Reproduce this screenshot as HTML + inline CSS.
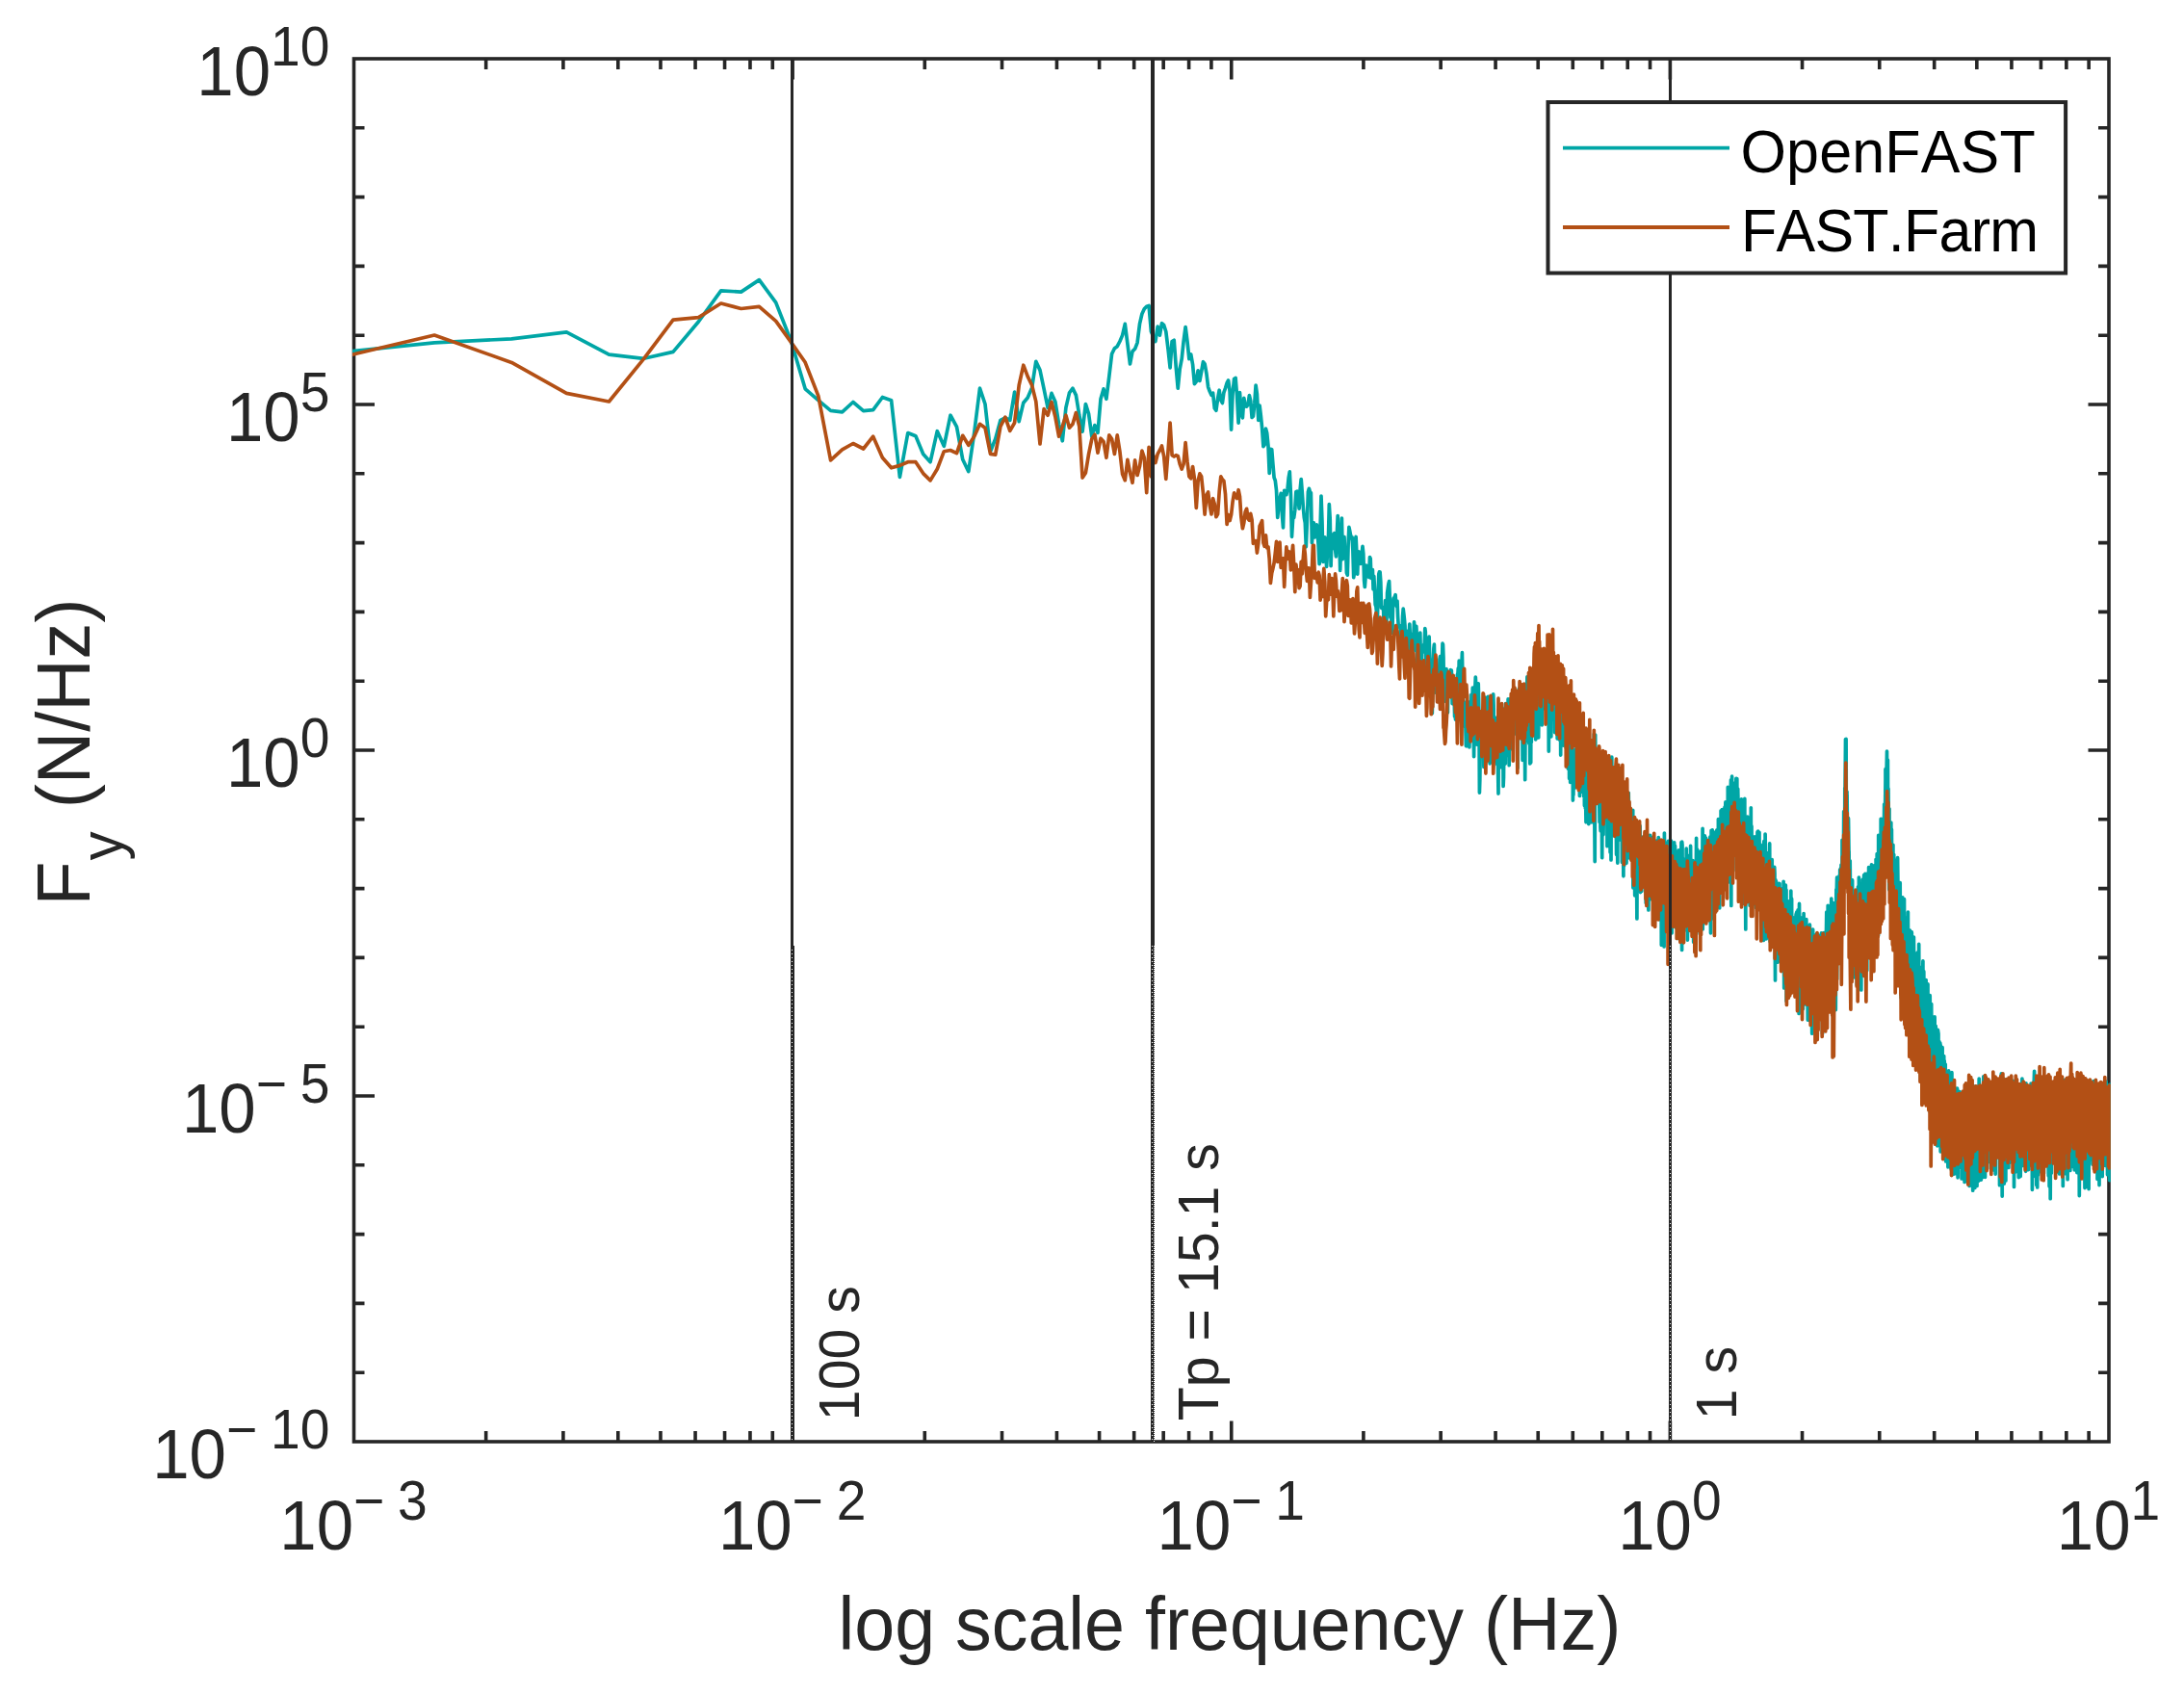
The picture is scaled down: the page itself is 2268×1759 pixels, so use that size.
<!DOCTYPE html>
<html><head><meta charset="utf-8"><title>Fy spectrum</title>
<style>html,body{margin:0;padding:0;background:#fff}body{width:2268px;height:1759px;overflow:hidden}</style></head>
<body>
<svg width="2268" height="1759" viewBox="0 0 2268 1759" style="display:block;font-family:'Liberation Sans',Arial,sans-serif">
<defs>
<clipPath id="ax"><rect x="366" y="59.3" width="1825.8" height="1439.5"/></clipPath>
</defs>
<rect width="2268" height="1759" fill="#fff"/>
<g stroke="#262626" stroke-width="3.6" fill="none" stroke-linecap="butt">
<rect x="367.5" y="61.0" width="1822.5" height="1436.0"/>
<path d="M504.66 1497.0v-11.0M504.66 61.0v11.0M584.89 1497.0v-11.0M584.89 61.0v11.0M641.81 1497.0v-11.0M641.81 61.0v11.0M685.97 1497.0v-11.0M685.97 61.0v11.0M722.05 1497.0v-11.0M722.05 61.0v11.0M752.55 1497.0v-11.0M752.55 61.0v11.0M778.97 1497.0v-11.0M778.97 61.0v11.0M802.28 1497.0v-11.0M802.28 61.0v11.0M823.12 1497.0v-21.5M823.12 61.0v21.5M960.28 1497.0v-11.0M960.28 61.0v11.0M1040.51 1497.0v-11.0M1040.51 61.0v11.0M1097.44 1497.0v-11.0M1097.44 61.0v11.0M1141.59 1497.0v-11.0M1141.59 61.0v11.0M1177.67 1497.0v-11.0M1177.67 61.0v11.0M1208.17 1497.0v-11.0M1208.17 61.0v11.0M1234.60 1497.0v-11.0M1234.60 61.0v11.0M1257.90 1497.0v-11.0M1257.90 61.0v11.0M1278.75 1497.0v-21.5M1278.75 61.0v21.5M1415.91 1497.0v-11.0M1415.91 61.0v11.0M1496.14 1497.0v-11.0M1496.14 61.0v11.0M1553.06 1497.0v-11.0M1553.06 61.0v11.0M1597.22 1497.0v-11.0M1597.22 61.0v11.0M1633.30 1497.0v-11.0M1633.30 61.0v11.0M1663.80 1497.0v-11.0M1663.80 61.0v11.0M1690.22 1497.0v-11.0M1690.22 61.0v11.0M1713.53 1497.0v-11.0M1713.53 61.0v11.0M1734.38 1497.0v-21.5M1734.38 61.0v21.5M1871.53 1497.0v-11.0M1871.53 61.0v11.0M1951.76 1497.0v-11.0M1951.76 61.0v11.0M2008.69 1497.0v-11.0M2008.69 61.0v11.0M2052.84 1497.0v-11.0M2052.84 61.0v11.0M2088.92 1497.0v-11.0M2088.92 61.0v11.0M2119.42 1497.0v-11.0M2119.42 61.0v11.0M2145.85 1497.0v-11.0M2145.85 61.0v11.0M2169.15 1497.0v-11.0M2169.15 61.0v11.0M367.5 1425.20h11.0M2190.0 1425.20h-11.0M367.5 1353.40h11.0M2190.0 1353.40h-11.0M367.5 1281.60h11.0M2190.0 1281.60h-11.0M367.5 1209.80h11.0M2190.0 1209.80h-11.0M367.5 1138.00h21.5M2190.0 1138.00h-21.5M367.5 1066.20h11.0M2190.0 1066.20h-11.0M367.5 994.40h11.0M2190.0 994.40h-11.0M367.5 922.60h11.0M2190.0 922.60h-11.0M367.5 850.80h11.0M2190.0 850.80h-11.0M367.5 779.00h21.5M2190.0 779.00h-21.5M367.5 707.20h11.0M2190.0 707.20h-11.0M367.5 635.40h11.0M2190.0 635.40h-11.0M367.5 563.60h11.0M2190.0 563.60h-11.0M367.5 491.80h11.0M2190.0 491.80h-11.0M367.5 420.00h21.5M2190.0 420.00h-21.5M367.5 348.20h11.0M2190.0 348.20h-11.0M367.5 276.40h11.0M2190.0 276.40h-11.0M367.5 204.60h11.0M2190.0 204.60h-11.0M367.5 132.80h11.0M2190.0 132.80h-11.0"/>
</g>
<g clip-path="url(#ax)" fill="none" stroke-width="3.7" stroke-linejoin="round" stroke-linecap="butt">
<path d="M314.0 370.0 L451.1 355.9 L531.3 351.8 L588.3 344.9 L632.4 368.1 L668.5 372.3 L699.0 365.4 L725.4 334.0 L748.7 301.8 L769.6 303.1 L788.4 290.6 L805.7 314.1 L821.5 354.3 L836.2 403.8 L849.8 415.7 L862.6 426.3 L874.6 427.9 L885.9 417.5 L896.6 426.6 L906.7 425.7 L916.4 412.5 L925.6 415.7 L934.4 495.3 L942.8 449.5 L950.9 452.8 L958.7 471.5 L966.1 479.7 L973.3 447.7 L980.3 463.3 L987.0 431.2 L993.5 443.1 L999.7 477.0 L1005.8 489.6 L1011.7 449.4 L1017.5 403.2 L1023.0 419.5 L1028.5 468.8 L1033.7 455.8 L1038.9 436.4 L1043.9 433.8 L1048.8 436.4 L1053.6 407.1 L1058.2 437.7 L1062.8 418.2 L1067.2 413.0 L1071.6 402.6 L1075.8 375.3 L1080.0 384.4 L1084.1 403.9 L1088.1 423.4 L1092.0 408.4 L1095.8 416.9 L1099.6 440.3 L1103.3 457.8 L1106.9 423.4 L1110.5 407.8 L1114.0 403.2 L1117.4 410.4 L1120.8 431.2 L1124.1 448.1 L1127.4 419.5 L1130.6 429.9 L1133.8 453.2 L1136.9 441.6 L1140.0 449.4 L1143.0 414.3 L1146.0 403.9 L1148.9 414.3 L1151.8 390.9 L1154.6 367.5 L1157.4 361.7 L1160.2 359.7 L1162.9 354.5 L1165.6 348.1 L1168.3 336.4 L1170.9 357.1 L1173.5 377.9 L1176.0 364.9 L1178.6 362.3 L1181.1 355.8 L1183.5 336.4 L1185.9 326.0 L1188.3 320.8 L1190.7 318.2 L1193.1 317.5 L1195.4 344.2 L1197.7 349.4 L1199.9 354.5 L1202.2 339.0 L1204.4 348.1 L1206.5 335.7 L1208.7 337.7 L1210.8 344.2 L1213.0 362.3 L1215.1 381.8 L1217.1 354.5 L1219.2 353.2 L1221.2 380.5 L1223.2 403.2 L1225.2 383.1 L1227.2 372.7 L1229.1 354.5 L1231.1 339.6 L1233.0 354.5 L1234.9 372.7 L1236.7 367.9 L1238.6 378.5 L1240.4 398.7 L1242.3 396.1 L1244.1 384.8 L1245.9 395.4 L1247.6 386.1 L1249.4 375.7 L1251.1 377.8 L1252.9 387.9 L1254.6 401.8 L1256.3 406.6 L1258.0 410.3 L1259.6 408.1 L1261.3 424.0 L1262.9 426.2 L1264.6 413.9 L1266.2 405.2 L1267.8 415.4 L1269.4 418.5 L1270.9 407.6 L1272.5 403.1 L1274.1 397.7 L1275.6 395.0 L1277.1 406.5 L1278.6 446.2 L1280.1 408.0 L1281.6 393.5 L1283.1 392.4 L1284.6 411.7 L1286.1 439.1 L1287.5 407.6 L1288.9 427.6 L1290.4 433.9 L1291.8 413.3 L1293.2 421.7 L1294.6 422.1 L1296.0 420.2 L1297.4 410.6 L1298.7 416.1 L1300.1 433.5 L1301.4 432.2 L1302.8 418.9 L1304.1 400.1 L1305.4 409.3 L1306.8 436.4 L1308.1 421.1 L1309.4 432.1 L1310.6 444.4 L1311.9 463.6 L1313.2 461.8 L1314.5 445.1 L1315.7 449.7 L1317.0 463.0 L1318.2 491.5 L1319.4 466.3 L1320.7 466.7 L1321.9 482.0 L1323.1 495.9 L1324.3 499.0 L1325.5 509.1 L1326.7 537.4 L1327.9 525.6 L1329.0 518.1 L1330.2 512.4 L1331.4 534.1 L1332.5 547.9 L1333.7 509.3 L1334.8 509.5 L1335.9 513.6 L1337.1 507.5 L1338.2 496.0 L1339.3 489.8 L1340.4 513.2 L1341.5 557.3 L1342.6 538.8 L1343.7 537.5 L1344.8 529.4 L1345.9 510.6 L1346.9 510.2 L1348.0 515.9 L1349.1 528.1 L1350.1 508.8 L1351.2 497.5 L1352.2 510.2 L1353.3 526.3 L1354.3 537.4 L1355.3 543.0 L1356.3 567.8 L1357.4 540.6 L1358.4 510.8 L1359.4 507.3 L1360.4 510.7 L1361.4 511.7 L1362.4 563.8 L1363.4 550.5 L1364.3 542.9 L1365.3 557.9 L1366.3 556.5 L1367.3 544.8 L1368.2 553.5 L1369.2 567.2 L1370.1 585.7 L1371.1 546.4 L1372.0 515.1 L1373.0 542.2 L1373.9 583.5 L1374.8 580.8 L1375.8 557.9 L1376.7 574.3 L1377.6 588.4 L1378.5 574.4 L1379.4 561.6 L1380.3 523.7 L1381.2 538.6 L1382.1 587.7 L1383.0 554.9 L1383.9 565.0 L1384.8 569.3 L1385.7 553.6 L1386.6 570.5 L1387.4 577.9 L1388.3 556.7 L1389.2 535.5 L1390.0 555.1 L1390.9 560.5 L1391.7 592.4 L1392.6 562.2 L1393.4 538.0 L1394.3 580.6 L1395.1 562.6 L1396.0 557.5 L1396.8 579.0 L1397.6 569.0 L1398.4 594.9 L1399.3 597.2 L1400.1 565.7 L1400.9 547.4 L1401.7 551.1 L1402.5 555.5 L1403.3 559.2 L1404.1 557.9 L1404.9 571.3 L1405.7 599.6 L1406.5 594.6 L1407.3 560.5 L1408.1 557.5 L1408.9 574.9 L1409.7 596.1 L1410.4 575.4 L1411.2 573.0 L1412.0 581.8 L1412.8 585.4 L1413.5 582.8 L1414.3 574.2 L1415.0 567.4 L1415.8 575.0 L1416.6 602.6 L1417.3 609.5 L1418.1 599.2 L1418.8 587.0 L1419.5 594.2 L1420.3 592.3 L1421.0 595.8 L1421.7 599.4 L1422.5 578.6 L1423.2 580.0 L1423.9 600.5 L1424.7 599.6 L1425.4 591.7 L1426.1 611.9 L1426.8 598.3 L1427.5 611.7 L1428.2 627.8 L1428.9 629.7 L1429.7 638.3 L1430.4 642.3 L1431.1 617.8 L1431.8 596.3 L1432.4 593.9 L1433.1 594.1 L1433.8 604.0 L1434.5 631.2 L1435.2 631.7 L1435.9 630.5 L1436.6 631.9 L1437.2 650.8 L1437.9 652.2 L1438.6 623.5 L1439.3 628.1 L1439.9 646.9 L1440.6 615.7 L1441.3 610.4 L1441.9 606.5 L1442.6 603.6 L1443.3 621.2 L1443.9 641.3 L1444.6 637.6 L1445.2 649.6 L1445.9 657.3 L1446.5 628.4 L1447.2 621.1 L1447.8 626.2 L1448.4 619.7 L1449.1 617.7 L1449.7 627.4 L1450.4 629.8 L1451.0 624.1 L1451.6 640.1 L1452.3 651.0 L1452.9 649.5 L1453.5 649.7 L1454.1 651.3 L1454.7 670.3 L1455.4 657.2 L1456.0 658.8 L1456.6 640.2 L1457.2 632.2 L1457.8 637.1 L1458.4 642.7 L1459.0 649.6 L1459.7 679.7 L1460.3 674.8 L1460.9 655.4 L1461.5 661.5 L1462.1 676.8 L1462.7 679.7 L1463.2 659.0 L1463.8 648.2 L1464.4 662.5 L1465.0 685.7 L1465.6 671.8 L1466.2 658.6 L1466.8 662.5 L1467.4 667.0 L1467.9 662.4 L1468.5 645.9 L1469.1 653.4 L1469.7 675.6 L1470.3 659.4 L1470.8 650.3 L1471.4 663.1 L1472.0 692.1 L1472.5 684.1 L1473.1 672.4 L1473.7 682.0 L1474.2 669.5 L1474.8 657.0 L1475.3 681.7 L1475.9 704.8 L1476.5 678.3 L1477.0 677.8 L1477.6 671.7 L1478.1 673.0 L1478.7 669.0 L1479.2 670.5 L1479.8 652.5 L1480.3 656.3 L1480.9 702.0 L1481.4 685.3 L1481.9 665.0 L1482.5 672.7 L1483.0 683.4 L1483.6 673.2 L1484.1 661.1 L1484.6 679.0 L1485.2 706.7 L1485.7 706.1 L1486.2 685.1 L1486.8 694.9 L1487.3 740.8 L1487.8 715.3 L1488.3 689.0 L1488.9 673.3 L1489.4 669.2 L1489.9 694.4 L1490.4 713.9 L1490.9 719.1 L1491.4 719.0 L1492.0 707.0 L1492.5 717.6 L1493.0 712.5 L1493.5 708.6 L1494.0 706.8 L1494.5 710.2 L1495.0 684.5 L1495.5 681.5 L1496.0 686.2 L1496.5 681.7 L1497.0 705.1 L1497.5 686.4 L1498.0 668.2 L1498.5 669.3 L1499.0 683.3 L1499.5 728.6 L1500.0 724.4 L1500.5 696.4 L1501.0 704.1 L1501.5 706.9 L1502.0 694.7 L1502.5 699.2 L1503.0 734.8 L1503.4 740.0 L1503.9 705.7 L1504.4 711.8 L1504.9 709.7 L1505.4 704.5 L1505.9 703.5 L1506.3 695.5 L1506.8 702.9 L1507.3 696.1 L1507.8 712.3 L1508.2 730.6 L1508.7 725.2 L1509.2 727.9 L1509.6 724.5 L1510.1 722.3 L1510.6 744.1 L1511.1 740.2 L1511.5 747.1 L1512.0 721.6 L1512.4 720.6 L1512.9 720.1 L1513.4 700.4 L1513.8 701.2 L1514.3 693.9 L1514.8 710.3 L1515.2 686.2 L1515.7 692.4 L1516.1 722.2 L1516.6 737.4 L1517.0 738.0 L1517.5 701.7 L1517.9 691.7 L1518.4 677.7 L1518.8 699.5 L1519.3 707.6 L1519.7 736.1 L1520.2 754.0 L1520.6 732.4 L1521.1 729.0 L1521.5 755.5 L1521.9 753.5 L1522.4 774.4 L1522.8 774.7 L1523.3 734.4 L1523.7 731.1 L1524.1 736.2 L1524.6 741.2 L1525.0 751.8 L1525.5 729.2 L1525.9 776.0 L1526.3 756.2 L1526.7 750.9 L1527.2 749.8 L1527.6 740.1 L1528.0 721.1 L1528.5 720.9 L1528.9 730.4 L1529.3 714.2 L1529.7 719.7 L1530.2 755.9 L1530.6 785.7 L1531.0 752.5 L1531.4 738.5 L1531.9 712.7 L1532.3 703.1 L1532.7 710.3 L1533.1 718.6 L1533.5 752.6 L1533.9 773.1 L1534.4 771.9 L1534.8 713.4 L1535.2 709.9 L1535.6 724.9 L1536.0 750.7 L1536.4 823.1 L1536.8 809.9 L1537.2 780.4 L1537.7 762.4 L1538.1 758.3 L1538.5 758.5 L1538.9 779.3 L1539.3 759.4 L1539.7 746.7 L1540.1 746.8 L1540.5 739.7 L1540.9 796.4 L1541.3 765.5 L1541.7 739.8 L1542.1 724.1 L1542.5 743.7 L1542.9 750.5 L1543.3 727.6 L1543.7 734.6 L1544.1 755.8 L1544.5 738.0 L1544.9 753.9 L1545.3 723.4 L1545.6 732.3 L1546.0 751.5 L1546.4 733.3 L1546.8 787.5 L1547.2 792.8 L1547.6 774.3 L1548.0 773.7 L1548.4 784.4 L1548.8 746.8 L1549.1 763.4 L1549.5 763.5 L1549.9 760.2 L1550.3 741.2 L1550.7 720.8 L1551.1 732.1 L1551.4 771.0 L1551.8 744.9 L1552.2 773.3 L1552.6 745.0 L1553.0 777.2 L1553.3 751.2 L1553.7 748.6 L1554.1 787.4 L1554.5 779.2 L1554.8 793.9 L1555.2 759.1 L1555.6 799.2 L1556.0 824.1 L1556.3 763.7 L1556.7 781.0 L1557.1 783.2 L1557.4 758.7 L1557.8 760.7 L1558.2 744.5 L1558.5 796.7 L1558.9 745.2 L1559.3 733.1 L1559.6 769.0 L1560.0 748.8 L1560.4 746.4 L1560.7 754.7 L1561.1 816.5 L1561.5 807.2 L1561.8 774.1 L1562.2 757.4 L1562.5 735.7 L1562.9 749.6 L1563.3 793.1 L1563.6 730.6 L1564.0 752.6 L1564.3 777.0 L1564.7 755.3 L1565.0 746.8 L1565.4 767.9 L1565.7 784.4 L1566.1 725.9 L1566.5 729.9 L1566.8 737.4 L1567.2 794.7 L1567.5 763.1 L1567.9 767.6 L1568.2 778.6 L1568.6 725.6 L1568.9 761.8 L1569.3 760.1 L1569.6 724.9 L1570.0 771.5 L1570.3 732.3 L1570.6 752.2 L1571.0 723.5 L1571.3 756.8 L1571.7 751.5 L1572.0 735.6 L1572.4 737.7 L1572.7 752.8 L1573.0 746.5 L1573.4 726.3 L1573.7 762.0 L1574.1 753.2 L1574.4 740.1 L1574.7 759.8 L1575.1 745.0 L1575.4 748.1 L1575.8 755.6 L1576.1 797.4 L1576.4 756.6 L1576.8 754.6 L1577.1 752.3 L1577.4 715.0 L1577.8 747.0 L1578.1 726.2 L1578.4 737.0 L1578.8 733.3 L1579.1 737.0 L1579.4 754.8 L1579.8 721.5 L1580.1 719.2 L1580.4 744.5 L1580.7 714.9 L1581.1 789.3 L1581.4 749.9 L1581.7 713.0 L1582.0 776.1 L1582.4 767.6 L1582.7 755.2 L1583.0 730.7 L1583.3 752.4 L1583.7 809.7 L1584.0 756.0 L1584.3 770.0 L1584.6 750.7 L1585.0 764.4 L1585.3 758.0 L1585.6 721.6 L1585.9 702.9 L1586.2 746.7 L1586.6 744.8 L1586.9 756.7 L1587.2 727.4 L1587.5 716.6 L1587.8 772.0 L1588.1 738.5 L1588.5 752.0 L1588.8 792.9 L1589.1 749.0 L1589.4 727.0 L1589.7 791.8 L1590.0 710.0 L1590.3 770.7 L1590.7 718.3 L1591.0 737.7 L1591.3 730.5 L1591.6 743.1 L1591.9 729.4 L1592.2 711.0 L1592.5 738.2 L1592.8 728.0 L1593.1 753.5 L1593.5 736.7 L1593.8 704.6 L1594.1 721.2 L1594.4 749.3 L1594.7 768.0 L1595.0 724.9 L1595.3 722.1 L1595.6 725.4 L1595.9 721.8 L1596.2 743.5 L1596.5 753.4 L1596.8 745.8 L1597.1 717.3 L1597.4 725.9 L1597.7 765.9 L1598.0 727.4 L1598.3 703.5 L1598.6 710.0 L1598.9 704.7 L1599.2 719.7 L1599.5 732.6 L1599.8 719.8 L1600.1 718.6 L1600.4 713.3 L1600.7 729.7 L1601.0 722.0 L1601.3 752.9 L1601.6 717.5 L1601.9 717.8 L1602.2 701.9 L1602.5 697.3 L1602.8 736.0 L1603.1 735.7 L1603.4 706.5 L1603.6 733.1 L1603.9 720.0 L1604.2 732.5 L1604.5 707.1 L1604.8 725.1 L1605.1 718.1 L1605.4 722.8 L1605.7 719.9 L1606.0 721.1 L1606.3 735.4 L1606.5 719.7 L1606.8 736.7 L1607.1 709.9 L1607.4 732.1 L1607.7 708.8 L1608.0 706.0 L1608.3 780.1 L1608.6 734.2 L1608.8 700.8 L1609.1 724.8 L1609.4 737.0 L1609.7 728.7 L1610.0 740.3 L1610.3 717.7 L1610.5 699.0 L1610.8 765.0 L1611.1 718.4 L1611.4 704.6 L1611.7 722.2 L1611.9 724.2 L1612.2 729.7 L1612.5 731.3 L1612.8 725.0 L1613.1 706.1 L1613.3 712.5 L1613.6 720.8 L1613.9 734.6 L1614.2 730.6 L1614.5 722.8 L1614.7 760.6 L1615.0 736.8 L1615.3 714.2 L1615.6 697.0 L1615.8 706.9 L1616.1 733.3 L1616.4 734.3 L1616.7 735.5 L1616.9 736.7 L1617.2 767.1 L1617.5 722.9 L1617.7 748.2 L1618.0 708.5 L1618.3 724.0 L1618.6 750.8 L1618.8 735.9 L1619.1 713.3 L1619.4 745.7 L1619.6 753.6 L1619.9 768.6 L1620.2 739.0 L1620.4 731.0 L1620.7 784.1 L1621.0 737.7 L1621.3 748.3 L1621.5 741.6 L1621.8 749.3 L1622.1 737.0 L1622.3 765.9 L1622.6 759.5 L1622.9 743.3 L1623.1 756.7 L1623.4 746.0 L1623.6 774.1 L1623.9 742.1 L1624.2 767.0 L1624.4 766.5 L1624.7 749.6 L1625.0 770.8 L1625.2 757.0 L1625.5 761.0 L1625.7 772.2 L1626.0 742.9 L1626.3 776.7 L1626.5 775.6 L1626.8 759.1 L1627.1 787.0 L1627.3 781.2 L1627.6 782.1 L1627.8 788.4 L1628.1 783.4 L1628.3 798.3 L1628.6 763.0 L1628.9 791.3 L1629.1 749.0 L1629.4 726.1 L1629.6 808.3 L1629.9 796.9 L1630.1 792.5 L1630.4 799.7 L1630.7 812.4 L1630.9 759.1 L1631.2 797.4 L1631.4 793.5 L1631.7 783.4 L1631.9 758.4 L1632.2 802.4 L1632.4 748.6 L1632.7 767.0 L1632.9 805.3 L1633.2 784.1 L1633.4 831.1 L1633.7 796.5 L1633.9 825.4 L1634.2 796.5 L1634.4 793.5 L1634.7 818.3 L1634.9 804.1 L1635.2 778.9 L1635.4 816.5 L1635.7 818.0 L1635.9 808.9 L1636.2 817.7 L1636.4 815.6 L1636.7 803.1 L1636.9 817.3 L1637.2 758.3 L1637.4 797.5 L1637.7 809.8 L1637.9 786.7 L1638.2 799.4 L1638.4 815.3 L1638.6 782.7 L1638.9 791.8 L1639.1 773.2 L1639.4 782.3 L1639.6 816.1 L1639.9 779.8 L1640.1 795.6 L1640.4 826.5 L1640.6 764.3 L1640.8 808.6 L1641.1 816.9 L1641.3 822.8 L1641.6 788.8 L1641.8 783.3 L1642.0 781.2 L1642.3 814.0 L1642.5 794.8 L1642.8 802.0 L1643.0 803.9 L1643.2 816.8 L1644.0 788.3 L1644.2 812.3 L1644.4 795.6 L1644.7 827.2 L1644.9 822.5 L1645.2 815.3 L1645.4 836.4 L1645.6 829.3 L1645.9 811.6 L1646.1 817.3 L1646.3 839.2 L1646.6 819.5 L1646.8 840.8 L1647.0 853.8 L1648.0 810.6 L1648.2 798.1 L1648.4 822.6 L1648.7 796.4 L1648.9 803.0 L1649.1 789.8 L1649.4 824.4 L1649.6 782.3 L1649.8 855.6 L1650.1 781.6 L1651.0 845.0 L1651.2 809.7 L1651.5 807.6 L1651.7 805.1 L1651.9 784.2 L1652.1 821.1 L1652.4 802.0 L1652.6 777.0 L1652.8 853.8 L1653.1 807.2 L1653.7 828.2 L1654.0 779.0 L1654.2 818.9 L1654.4 839.5 L1654.6 811.9 L1654.9 819.4 L1655.1 801.7 L1655.3 762.3 L1656.0 869.1 L1656.2 894.6 L1656.4 812.6 L1656.7 763.0 L1656.9 806.1 L1657.1 803.4 L1657.8 779.9 L1658.0 785.4 L1658.2 789.2 L1658.4 800.1 L1658.7 791.5 L1658.9 786.2 L1659.1 788.6 L1659.8 780.5 L1660.0 831.8 L1660.2 790.7 L1660.4 834.8 L1660.6 821.2 L1660.9 839.9 L1661.1 853.7 L1661.3 783.4 L1662.0 859.7 L1662.2 862.8 L1662.4 845.8 L1662.6 808.3 L1662.8 831.5 L1663.0 809.2 L1663.7 890.7 L1663.9 835.4 L1664.1 839.7 L1664.8 783.9 L1665.0 866.8 L1665.2 852.1 L1665.4 802.3 L1665.6 820.5 L1665.8 807.4 L1666.0 813.5 L1666.5 837.3 L1666.7 812.7 L1666.9 837.0 L1667.1 790.1 L1667.5 833.8 L1668.0 815.1 L1668.2 825.1 L1668.4 847.2 L1668.6 822.9 L1668.8 813.9 L1669.0 878.7 L1669.6 807.7 L1669.8 833.9 L1670.1 831.4 L1670.5 877.3 L1670.7 817.1 L1670.9 844.7 L1671.1 875.5 L1671.3 814.2 L1671.9 846.5 L1672.1 884.9 L1672.8 832.8 L1673.0 892.9 L1673.2 835.5 L1673.6 861.4 L1673.8 786.2 L1674.0 823.4 L1674.2 851.9 L1674.4 820.3 L1674.6 853.7 L1674.8 820.7 L1675.0 824.3 L1675.8 850.9 L1676.0 814.8 L1676.6 868.2 L1676.8 807.8 L1677.0 848.4 L1677.6 830.8 L1677.8 854.1 L1678.0 813.5 L1678.6 887.3 L1678.8 852.4 L1679.0 877.0 L1679.4 840.6 L1679.8 896.1 L1680.0 823.2 L1680.2 855.5 L1680.4 819.2 L1680.8 853.6 L1681.0 842.3 L1681.2 859.5 L1681.8 824.1 L1682.0 801.1 L1683.0 872.3 L1683.2 856.5 L1683.4 822.1 L1684.0 842.4 L1684.2 844.7 L1684.4 895.3 L1684.8 822.4 L1684.9 825.6 L1685.1 879.7 L1685.3 849.1 L1685.9 909.8 L1686.1 850.5 L1686.5 899.3 L1686.9 816.9 L1687.1 844.1 L1687.5 829.5 L1687.8 896.8 L1688.0 864.7 L1688.2 837.6 L1689.0 896.3 L1689.2 841.4 L1689.7 890.0 L1689.9 842.7 L1690.1 866.4 L1690.3 837.8 L1690.7 868.6 L1690.9 862.4 L1691.1 881.4 L1691.2 823.3 L1692.0 890.9 L1692.2 853.8 L1692.6 839.0 L1692.7 887.3 L1692.9 853.2 L1693.1 877.4 L1693.5 884.8 L1693.7 846.2 L1693.9 857.0 L1694.0 878.8 L1694.2 842.2 L1694.6 893.3 L1695.0 879.3 L1695.1 888.1 L1695.7 841.3 L1695.9 921.8 L1696.1 866.5 L1696.2 864.4 L1696.6 911.2 L1697.0 900.2 L1697.2 905.9 L1697.3 865.8 L1697.7 929.8 L1697.9 887.0 L1698.1 879.7 L1698.4 904.6 L1698.8 863.6 L1699.0 896.9 L1699.2 902.6 L1699.3 874.2 L1699.9 954.0 L1700.1 891.9 L1700.2 921.6 L1700.9 909.0 L1701.1 906.8 L1701.3 870.9 L1701.5 908.1 L1701.8 906.7 L1702.0 875.4 L1702.2 912.7 L1702.9 877.3 L1703.1 857.7 L1703.6 926.6 L1704.0 879.6 L1704.1 918.3 L1704.5 898.1 L1704.8 925.4 L1705.0 901.4 L1705.2 916.3 L1705.5 869.3 L1705.9 910.1 L1706.1 883.7 L1706.4 910.7 L1706.9 905.7 L1707.1 883.1 L1707.5 876.8 L1707.6 890.7 L1708.0 887.0 L1708.1 892.5 L1708.3 881.2 L1708.8 917.9 L1709.0 886.1 L1709.2 937.5 L1709.3 867.6 L1709.9 887.9 L1710.0 927.6 L1710.7 866.4 L1710.9 882.1 L1711.1 913.1 L1711.7 872.4 L1711.9 945.0 L1712.1 887.3 L1712.7 867.9 L1712.9 913.4 L1713.1 916.5 L1713.3 933.2 L1713.6 867.3 L1713.9 885.9 L1714.1 903.8 L1714.3 880.9 L1714.6 933.7 L1714.9 905.8 L1715.1 894.1 L1715.3 925.6 L1715.8 880.5 L1715.9 904.3 L1716.1 872.2 L1716.6 869.4 L1716.7 901.8 L1716.9 890.3 L1717.1 908.8 L1717.2 951.8 L1717.6 878.4 L1717.9 892.2 L1718.1 909.2 L1718.2 902.5 L1718.7 955.3 L1718.9 906.3 L1719.0 884.4 L1719.9 910.4 L1720.0 908.8 L1720.5 872.8 L1721.0 917.3 L1721.2 932.1 L1722.0 878.7 L1722.1 892.7 L1722.3 869.5 L1722.8 908.4 L1722.9 896.1 L1723.1 913.8 L1723.2 940.2 L1723.6 893.7 L1723.9 902.1 L1724.0 929.5 L1724.2 955.0 L1724.8 891.3 L1725.0 917.8 L1725.1 903.7 L1725.3 981.3 L1725.6 879.8 L1725.9 891.0 L1726.1 899.5 L1726.3 933.7 L1726.6 892.7 L1726.9 902.5 L1727.0 918.2 L1727.3 937.8 L1727.7 886.8 L1728.0 905.8 L1728.1 982.9 L1728.4 865.1 L1728.9 916.1 L1729.1 926.7 L1729.7 893.3 L1730.0 941.5 L1730.1 903.9 L1730.3 926.9 L1730.6 875.6 L1730.9 878.7 L1731.1 907.7 L1731.2 892.1 L1731.4 915.8 L1732.0 896.0 L1732.1 875.5 L1732.4 873.3 L1732.7 943.9 L1732.9 937.2 L1733.1 908.3 L1733.5 882.1 L1733.8 944.9 L1734.0 902.0 L1734.1 922.1 L1734.4 886.4 L1734.9 917.0 L1735.0 923.4 L1735.5 873.2 L1735.8 936.1 L1735.9 926.5 L1736.1 969.0 L1736.8 891.0 L1737.0 907.9 L1737.1 930.7 L1737.3 885.4 L1737.9 911.1 L1738.0 914.9 L1738.7 874.9 L1738.9 935.3 L1739.0 925.5 L1739.5 878.3 L1739.9 924.2 L1740.1 963.0 L1740.9 895.3 L1741.1 916.1 L1741.5 927.8 L1741.7 884.1 L1742.0 904.3 L1742.1 974.4 L1742.5 893.1 L1743.0 926.9 L1743.1 922.7 L1743.3 882.8 L1743.4 933.1 L1744.0 912.8 L1744.1 911.6 L1744.3 893.5 L1744.7 918.9 L1745.0 916.7 L1745.1 927.4 L1746.0 874.6 L1746.1 913.5 L1746.6 986.5 L1746.7 874.1 L1747.0 877.3 L1747.1 896.0 L1747.4 918.5 L1747.6 891.3 L1748.0 915.5 L1748.1 892.9 L1748.8 933.3 L1749.0 928.3 L1749.1 901.1 L1749.4 952.4 L1749.9 898.3 L1750.1 922.6 L1750.2 907.9 L1750.5 946.3 L1750.9 935.8 L1751.1 906.0 L1751.2 881.2 L1751.3 917.5 L1751.9 889.5 L1752.0 966.9 L1752.3 888.7 L1752.4 976.1 L1753.0 935.9 L1753.1 920.2 L1753.5 952.0 L1753.9 896.8 L1754.1 922.0 L1754.4 888.2 L1754.6 930.4 L1754.9 919.1 L1755.0 922.7 L1755.2 935.5 L1755.6 878.4 L1756.0 931.1 L1756.1 901.1 L1756.5 943.9 L1756.9 906.4 L1757.1 957.2 L1757.9 893.7 L1758.0 928.5 L1758.3 899.0 L1758.7 978.2 L1758.9 919.0 L1759.1 914.8 L1759.3 902.2 L1759.6 942.8 L1759.9 922.5 L1760.0 896.0 L1760.1 895.6 L1760.3 974.4 L1760.9 907.4 L1761.1 935.7 L1761.6 870.3 L1761.7 969.7 L1762.0 883.0 L1762.1 927.6 L1762.2 937.4 L1762.6 882.1 L1762.9 915.3 L1763.0 944.2 L1763.3 887.6 L1763.9 931.0 L1764.1 906.1 L1764.2 953.5 L1764.7 893.8 L1765.0 915.6 L1765.1 889.6 L1765.6 942.4 L1765.9 909.2 L1766.0 884.2 L1766.5 962.7 L1766.9 903.7 L1767.0 888.8 L1767.3 962.6 L1767.6 888.1 L1767.9 890.1 L1768.1 860.4 L1768.2 964.9 L1769.0 911.6 L1769.1 873.7 L1769.3 923.3 L1770.0 904.8 L1770.1 899.6 L1770.2 941.8 L1770.3 867.8 L1771.0 905.8 L1771.1 941.8 L1771.5 870.0 L1772.0 877.5 L1772.1 909.3 L1772.6 946.2 L1772.8 886.9 L1773.0 911.1 L1773.1 907.1 L1773.3 922.8 L1773.5 887.1 L1774.0 898.6 L1774.1 899.8 L1774.2 926.3 L1774.5 875.8 L1774.9 892.9 L1775.1 892.1 L1775.6 921.8 L1775.8 869.2 L1775.9 874.9 L1776.1 932.0 L1776.5 968.9 L1776.9 878.0 L1777.0 902.4 L1777.1 862.4 L1778.0 953.9 L1778.1 862.8 L1778.2 861.9 L1778.4 926.7 L1779.0 880.5 L1779.1 885.3 L1779.8 914.7 L1779.9 864.1 L1780.0 899.4 L1780.4 865.4 L1780.8 933.1 L1780.9 910.9 L1781.0 904.8 L1781.4 892.6 L1781.7 938.4 L1782.0 895.8 L1782.1 895.1 L1782.4 918.4 L1782.8 862.1 L1782.9 867.0 L1783.0 861.9 L1783.4 937.4 L1784.0 888.2 L1784.1 910.9 L1784.3 937.9 L1784.4 850.5 L1784.9 879.5 L1785.0 894.1 L1785.7 943.0 L1785.8 864.3 L1785.9 895.7 L1786.1 897.4 L1786.4 921.2 L1786.9 850.0 L1787.0 883.6 L1787.1 841.8 L1787.6 915.9 L1787.9 871.3 L1788.0 889.6 L1788.3 840.7 L1788.8 900.0 L1789.0 848.1 L1789.1 913.9 L1789.3 845.7 L1790.0 878.2 L1790.1 847.5 L1790.5 896.8 L1790.9 860.8 L1791.0 838.2 L1791.1 908.4 L1791.9 832.9 L1792.0 879.1 L1792.5 881.2 L1792.7 838.7 L1792.9 849.4 L1793.0 916.3 L1793.4 837.5 L1793.9 896.0 L1794.0 841.5 L1794.2 908.6 L1794.3 817.4 L1794.9 842.1 L1795.0 857.9 L1795.7 882.3 L1795.9 825.8 L1796.0 916.0 L1796.4 819.8 L1796.9 908.5 L1797.0 827.4 L1797.5 809.8 L1797.8 940.4 L1797.9 863.3 L1798.0 846.2 L1798.6 806.2 L1798.7 860.3 L1798.9 818.8 L1799.0 841.9 L1799.5 812.9 L1799.9 875.5 L1800.0 872.1 L1800.1 857.6 L1800.2 866.4 L1800.6 819.0 L1801.0 866.4 L1801.1 832.9 L1801.3 824.1 L1801.5 874.9 L1801.9 846.1 L1802.0 813.8 L1802.2 874.5 L1802.9 808.4 L1803.0 860.9 L1803.1 885.7 L1803.2 904.0 L1803.8 808.6 L1804.0 874.9 L1804.1 902.8 L1804.7 819.1 L1804.9 829.4 L1805.0 873.8 L1805.1 832.9 L1805.7 902.7 L1806.0 855.1 L1806.1 859.7 L1806.6 850.9 L1806.9 910.9 L1807.0 908.1 L1807.5 846.7 L1807.9 854.6 L1808.0 864.7 L1808.2 871.3 L1808.4 829.8 L1809.0 865.3 L1809.1 860.3 L1809.5 857.8 L1809.6 938.2 L1809.9 893.6 L1810.0 869.8 L1810.1 836.9 L1810.9 906.9 L1811.0 870.0 L1811.7 921.3 L1811.8 829.3 L1812.0 895.8 L1812.1 906.5 L1812.3 869.5 L1812.8 964.9 L1813.0 873.3 L1813.1 881.7 L1813.2 851.7 L1813.7 922.4 L1814.0 868.5 L1814.1 863.8 L1814.3 931.1 L1814.7 848.0 L1814.9 920.2 L1815.0 913.7 L1815.2 931.5 L1815.6 851.4 L1815.9 911.1 L1816.0 898.6 L1816.3 862.6 L1816.5 936.3 L1817.0 917.4 L1817.1 940.2 L1817.6 868.9 L1818.0 900.1 L1818.1 890.9 L1818.3 838.8 L1818.5 905.1 L1819.0 857.9 L1819.1 885.8 L1819.4 872.2 L1819.9 922.0 L1820.0 896.3 L1820.1 906.3 L1820.4 884.5 L1820.5 935.8 L1820.9 887.2 L1821.0 912.2 L1821.2 877.5 L1821.4 938.8 L1821.9 889.2 L1822.0 911.5 L1822.1 868.9 L1822.9 927.9 L1823.0 890.7 L1823.1 886.0 L1823.4 942.3 L1823.7 875.6 L1823.9 879.5 L1824.0 874.1 L1824.7 946.1 L1825.0 863.9 L1825.1 883.8 L1825.5 922.9 L1825.7 863.1 L1825.9 873.6 L1826.0 895.3 L1826.6 918.7 L1827.0 864.3 L1827.1 893.1 L1827.2 940.6 L1827.9 893.8 L1828.0 907.9 L1828.2 877.0 L1829.0 924.5 L1829.1 894.2 L1829.4 951.0 L1829.7 885.6 L1830.0 937.1 L1830.1 924.6 L1830.5 885.8 L1830.8 948.5 L1830.9 910.5 L1831.0 918.0 L1831.3 976.5 L1831.8 873.7 L1831.9 907.4 L1832.0 930.2 L1832.6 958.2 L1832.9 884.9 L1832.9 947.1 L1833.0 903.5 L1833.1 866.0 L1834.0 932.2 L1834.0 893.0 L1834.3 974.9 L1835.0 922.0 L1835.0 951.7 L1835.3 885.9 L1835.9 919.5 L1836.0 912.9 L1836.1 892.2 L1836.6 939.4 L1836.9 904.3 L1837.0 965.0 L1837.7 875.9 L1837.9 919.8 L1838.0 928.6 L1838.1 977.6 L1838.7 902.0 L1839.0 926.9 L1839.1 926.3 L1839.2 955.5 L1840.0 903.1 L1840.1 928.7 L1840.2 892.7 L1840.4 962.4 L1840.9 925.8 L1841.0 949.2 L1841.1 901.3 L1841.6 952.6 L1841.9 920.4 L1842.0 956.6 L1842.7 900.4 L1843.0 907.2 L1843.0 924.5 L1843.5 1017.9 L1843.7 913.3 L1843.9 928.3 L1844.0 918.6 L1844.3 981.0 L1844.4 914.9 L1845.0 935.1 L1845.0 950.7 L1845.2 918.4 L1845.6 977.1 L1846.0 933.4 L1846.1 967.7 L1846.2 999.2 L1846.8 927.2 L1846.9 932.6 L1847.0 962.9 L1847.1 989.5 L1847.4 917.4 L1848.0 917.5 L1848.0 945.9 L1848.4 922.4 L1848.6 983.4 L1849.0 930.1 L1849.1 971.2 L1849.4 922.8 L1849.7 993.9 L1850.0 934.0 L1850.1 978.1 L1850.3 1007.9 L1850.6 929.8 L1851.0 940.2 L1851.1 960.3 L1851.4 932.3 L1851.9 1000.4 L1852.0 996.8 L1852.1 915.3 L1852.7 1026.0 L1853.0 971.8 L1853.1 947.1 L1853.4 1017.0 L1853.9 943.4 L1854.0 983.3 L1854.1 960.1 L1854.3 919.1 L1854.6 976.9 L1855.0 924.0 L1855.1 1039.6 L1855.1 945.1 L1856.0 946.8 L1856.0 950.2 L1856.4 935.5 L1856.7 985.2 L1856.9 983.2 L1857.0 950.3 L1857.3 999.4 L1857.7 938.2 L1858.0 954.6 L1858.1 984.2 L1858.6 945.8 L1858.8 1000.6 L1859.0 978.8 L1859.0 974.1 L1859.3 1028.7 L1859.8 925.0 L1860.0 968.3 L1860.1 970.2 L1860.6 933.2 L1860.8 989.3 L1861.0 968.4 L1861.0 985.0 L1861.7 957.0 L1861.8 1013.5 L1862.0 961.4 L1862.1 975.7 L1862.8 997.7 L1862.9 963.9 L1863.0 1004.9 L1863.3 952.9 L1863.7 1007.4 L1864.0 994.9 L1864.0 1002.0 L1864.1 1021.7 L1865.0 951.2 L1865.1 949.5 L1865.8 947.2 L1865.9 1016.5 L1866.0 965.5 L1866.1 953.1 L1866.2 1014.2 L1867.0 974.4 L1867.1 964.4 L1867.1 944.8 L1868.0 1024.2 L1868.1 971.3 L1868.1 1052.4 L1868.5 938.4 L1869.0 998.3 L1869.1 1005.5 L1869.4 1007.4 L1869.6 957.4 L1870.0 975.4 L1870.1 1002.9 L1870.1 955.7 L1870.7 1032.0 L1871.0 996.6 L1871.0 978.3 L1871.4 952.8 L1871.7 1040.6 L1872.0 1001.0 L1872.0 958.2 L1872.3 1047.8 L1872.9 987.5 L1873.0 1007.0 L1873.1 948.5 L1873.4 1019.1 L1874.0 988.1 L1874.0 1023.3 L1874.3 1042.9 L1874.9 972.1 L1874.9 979.1 L1875.0 996.8 L1875.8 954.6 L1875.9 1015.8 L1876.0 991.3 L1876.1 1001.9 L1876.6 1035.9 L1876.9 976.5 L1877.0 1023.4 L1877.3 1059.1 L1877.4 961.8 L1878.0 986.1 L1878.0 973.3 L1878.4 1059.3 L1879.0 994.6 L1879.1 1015.2 L1879.4 960.2 L1880.0 999.2 L1880.1 1019.5 L1880.3 967.1 L1880.8 1042.1 L1880.9 1005.2 L1881.0 983.2 L1881.7 1073.2 L1881.7 976.4 L1881.9 994.2 L1882.0 1029.8 L1882.6 965.0 L1882.9 985.0 L1883.0 1016.1 L1883.2 972.8 L1883.5 1028.6 L1883.9 997.3 L1884.0 997.4 L1884.1 1041.6 L1884.1 980.5 L1885.0 1033.9 L1885.1 1008.7 L1885.2 970.8 L1885.6 1072.3 L1886.0 1026.9 L1886.0 1004.3 L1886.7 1016.5 L1887.0 969.4 L1887.0 1005.3 L1887.4 979.5 L1887.9 1047.7 L1888.0 1020.3 L1888.4 972.8 L1888.8 1043.3 L1889.0 1024.0 L1889.0 1002.9 L1889.4 1037.5 L1889.5 980.2 L1889.9 1010.3 L1890.0 1035.0 L1890.6 970.9 L1890.8 1039.2 L1891.0 997.7 L1891.0 1010.0 L1891.4 968.9 L1891.7 1057.5 L1892.0 995.6 L1892.1 1022.6 L1892.5 1073.5 L1892.5 970.2 L1892.9 993.4 L1893.0 1000.4 L1893.3 1060.9 L1893.9 985.1 L1894.0 997.6 L1894.0 971.9 L1894.1 968.7 L1894.3 1030.0 L1895.0 1000.4 L1895.0 998.2 L1895.3 978.7 L1895.6 1053.2 L1896.0 982.1 L1896.0 1002.1 L1896.8 947.1 L1896.9 1023.1 L1897.0 988.3 L1897.0 970.2 L1897.9 1034.4 L1898.0 956.7 L1898.0 1021.4 L1898.2 940.3 L1898.9 1030.9 L1899.0 1026.3 L1899.3 1039.8 L1899.5 941.2 L1900.0 954.4 L1900.1 987.3 L1900.6 1042.0 L1900.6 945.7 L1901.0 950.3 L1901.0 968.5 L1901.8 933.1 L1901.9 1007.0 L1902.0 981.8 L1902.9 1020.6 L1903.0 942.7 L1903.0 988.1 L1903.4 1004.1 L1903.8 937.5 L1903.9 964.3 L1904.0 957.0 L1904.3 1004.8 L1904.6 943.8 L1905.0 963.9 L1905.0 974.3 L1905.2 1013.2 L1905.5 942.0 L1906.0 990.6 L1906.0 968.6 L1906.3 1048.6 L1906.9 923.6 L1907.0 958.3 L1907.1 934.0 L1907.6 911.2 L1907.6 1016.7 L1907.9 961.4 L1908.0 969.0 L1908.3 925.7 L1908.4 987.7 L1908.9 965.3 L1909.0 953.8 L1909.5 977.3 L1909.9 909.7 L1909.9 921.2 L1910.0 943.9 L1910.6 979.3 L1910.7 903.1 L1911.0 938.9 L1911.1 943.7 L1911.5 901.6 L1912.0 919.7 L1912.0 898.0 L1912.8 962.8 L1913.0 885.4 L1913.0 872.4 L1913.6 921.4 L1913.9 892.0 L1914.0 895.1 L1914.4 898.6 L1914.7 842.6 L1915.0 848.8 L1915.0 880.0 L1915.6 906.5 L1915.8 818.0 L1915.9 849.1 L1916.0 829.2 L1916.5 767.6 L1916.6 843.8 L1917.0 805.7 L1917.0 781.5 L1917.1 767.4 L1917.3 843.3 L1918.0 822.1 L1918.0 846.9 L1918.1 825.0 L1918.7 894.2 L1919.0 882.8 L1919.1 856.4 L1919.2 920.6 L1919.5 849.7 L1920.0 885.8 L1920.1 883.8 L1920.5 943.1 L1920.9 921.6 L1921.0 913.8 L1921.2 893.8 L1922.0 976.6 L1922.1 936.6 L1922.2 923.0 L1922.4 985.5 L1923.0 930.4 L1923.0 975.1 L1923.6 913.9 L1924.0 1005.4 L1924.0 949.9 L1924.1 937.5 L1924.2 1002.9 L1925.0 960.4 L1925.0 985.3 L1925.1 948.9 L1925.8 993.6 L1926.0 987.9 L1926.1 1015.0 L1926.4 944.5 L1927.0 1000.5 L1927.0 967.2 L1927.2 1003.3 L1927.4 927.6 L1928.0 972.1 L1928.0 971.5 L1928.2 936.0 L1928.3 1022.7 L1929.0 955.8 L1929.0 979.1 L1929.1 1000.4 L1929.5 920.8 L1930.0 939.9 L1930.0 930.6 L1930.2 1022.4 L1930.4 911.0 L1931.0 987.7 L1931.0 955.4 L1931.1 996.8 L1931.3 921.7 L1932.0 968.8 L1932.0 953.2 L1932.6 935.0 L1932.8 1028.0 L1933.0 965.8 L1933.0 989.8 L1933.6 930.3 L1934.0 991.4 L1934.0 929.2 L1934.2 913.3 L1934.7 1008.0 L1935.0 940.4 L1935.0 921.7 L1935.7 908.6 L1935.8 981.2 L1936.0 961.9 L1936.1 940.2 L1936.6 976.9 L1936.9 907.4 L1937.0 928.7 L1937.0 929.7 L1937.4 920.9 L1937.8 1008.8 L1937.9 948.2 L1938.0 950.2 L1938.2 907.4 L1938.8 1007.6 L1939.0 947.1 L1939.0 949.8 L1939.6 981.7 L1940.0 908.6 L1940.0 974.1 L1940.3 978.4 L1940.6 900.5 L1940.9 934.8 L1941.0 914.5 L1942.0 974.4 L1942.0 908.2 L1942.1 971.6 L1942.4 903.6 L1943.0 936.5 L1943.0 972.0 L1943.5 897.8 L1943.7 973.0 L1944.0 967.9 L1944.0 923.6 L1944.2 956.6 L1944.8 908.5 L1945.0 955.0 L1945.1 934.2 L1945.4 903.4 L1945.5 949.4 L1946.0 939.3 L1946.0 955.4 L1946.7 898.5 L1947.0 914.3 L1947.0 918.7 L1947.8 973.2 L1947.8 898.3 L1948.0 905.1 L1948.0 960.8 L1948.1 892.3 L1949.0 929.0 L1949.0 937.1 L1949.2 886.6 L1949.3 970.8 L1950.0 921.6 L1950.0 949.8 L1950.5 971.5 L1950.7 867.4 L1951.0 897.3 L1951.0 923.2 L1951.5 887.6 L1951.6 956.3 L1952.0 901.4 L1952.0 897.4 L1952.2 875.3 L1952.6 945.9 L1953.0 914.8 L1953.0 928.1 L1953.2 850.3 L1953.3 949.2 L1954.0 890.3 L1954.0 868.6 L1954.1 850.6 L1954.4 937.3 L1955.0 870.5 L1955.0 892.0 L1955.3 909.5 L1955.9 851.2 L1956.0 875.1 L1956.0 883.3 L1956.1 890.6 L1956.7 835.0 L1957.0 839.1 L1957.0 869.1 L1957.1 882.5 L1958.0 809.7 L1958.0 798.7 L1958.3 837.5 L1958.7 797.8 L1959.0 814.7 L1959.0 808.1 L1959.5 780.0 L1959.8 855.9 L1960.0 825.2 L1960.0 806.5 L1960.4 789.1 L1960.8 884.8 L1961.0 843.9 L1961.0 818.9 L1961.8 923.7 L1962.0 894.7 L1962.0 839.8 L1962.1 908.1 L1963.0 862.9 L1963.0 880.2 L1963.3 929.4 L1963.8 854.1 L1964.0 899.1 L1964.0 903.2 L1964.4 861.2 L1964.9 954.9 L1965.0 937.1 L1965.0 888.6 L1965.3 965.0 L1965.9 877.3 L1966.0 921.0 L1966.0 905.9 L1966.2 959.3 L1966.7 887.3 L1967.0 921.5 L1967.0 909.2 L1967.5 893.2 L1967.9 962.2 L1968.0 923.1 L1968.0 907.9 L1968.1 900.1 L1968.4 969.8 L1969.0 912.0 L1969.0 931.7 L1969.5 965.5 L1969.8 909.2 L1970.0 929.8 L1970.0 938.2 L1970.5 988.8 L1970.6 890.7 L1971.0 922.6 L1971.0 947.2 L1971.2 920.6 L1971.7 986.5 L1972.0 930.9 L1972.0 917.1 L1972.2 916.8 L1972.7 1004.7 L1973.0 964.3 L1973.0 924.1 L1973.2 916.7 L1973.5 1000.1 L1974.0 971.2 L1974.0 968.6 L1974.2 1036.2 L1974.4 934.0 L1975.0 985.1 L1975.0 953.3 L1975.8 931.9 L1976.0 1030.3 L1976.0 958.7 L1976.8 1019.9 L1976.9 944.8 L1977.0 957.4 L1977.0 990.1 L1977.5 933.7 L1977.7 1037.3 L1978.0 1025.2 L1978.0 990.6 L1978.8 952.9 L1978.9 1026.5 L1979.0 965.8 L1979.0 967.8 L1979.7 953.1 L1979.9 1023.2 L1980.0 989.8 L1980.0 1019.1 L1980.6 1027.2 L1981.0 958.2 L1981.0 983.9 L1981.4 947.2 L1981.6 1020.6 L1982.0 977.3 L1982.0 995.7 L1982.2 1047.8 L1982.5 971.0 L1983.0 973.0 L1983.0 982.7 L1983.2 1032.6 L1983.4 966.1 L1984.0 1021.5 L1984.0 991.4 L1984.6 973.8 L1984.8 1081.0 L1985.0 1007.8 L1985.0 987.9 L1985.3 967.9 L1985.8 1037.0 L1986.0 995.5 L1986.0 1003.1 L1986.3 974.8 L1986.9 1048.0 L1987.0 1039.5 L1987.0 1028.0 L1987.4 973.1 L1987.9 1037.2 L1988.0 1011.8 L1988.0 1028.8 L1988.7 998.9 L1989.0 1067.3 L1989.0 1019.3 L1989.7 1000.5 L1989.9 1087.5 L1990.0 1027.7 L1990.0 1065.1 L1990.3 991.1 L1991.0 1026.4 L1991.0 1082.7 L1991.2 989.0 L1992.0 1034.3 L1992.0 1036.6 L1992.2 1055.0 L1992.7 980.4 L1993.0 1049.2 L1993.0 1018.1 L1993.2 1064.0 L1993.6 1004.0 L1994.0 1035.8 L1994.0 1052.0 L1994.5 1121.8 L1994.9 1015.0 L1995.0 1028.3 L1995.0 1028.1 L1995.1 1091.4 L1995.8 1011.1 L1996.0 1064.4 L1996.0 1080.0 L1996.9 997.9 L1997.0 1033.6 L1997.0 1074.9 L1997.2 1142.4 L1997.8 1008.7 L1998.0 1047.4 L1998.0 1025.6 L1998.2 1023.2 L1998.4 1135.0 L1999.0 1083.7 L1999.0 1034.9 L1999.5 1025.2 L1999.8 1087.5 L2000.0 1059.0 L2000.0 1076.8 L2000.1 1017.6 L2000.9 1090.1 L2001.0 1043.3 L2001.0 1068.3 L2001.5 1104.8 L2002.0 1021.9 L2002.0 1072.3 L2002.2 1139.2 L2002.7 1033.3 L2003.0 1064.7 L2003.0 1083.0 L2003.3 1036.5 L2003.3 1127.6 L2004.0 1070.4 L2004.0 1048.1 L2004.2 1154.5 L2004.2 1033.7 L2005.0 1103.8 L2005.0 1068.3 L2005.7 1042.5 L2006.0 1117.9 L2006.0 1087.2 L2006.0 1054.4 L2006.8 1129.3 L2007.0 1095.0 L2007.0 1120.0 L2007.3 1059.0 L2007.9 1156.5 L2008.0 1073.6 L2008.0 1096.1 L2008.1 1063.1 L2008.7 1126.2 L2009.0 1088.1 L2009.0 1094.8 L2009.1 1055.9 L2009.7 1148.7 L2010.0 1096.9 L2010.0 1118.7 L2010.2 1065.4 L2010.6 1159.3 L2011.0 1152.9 L2011.0 1121.3 L2011.7 1189.8 L2011.8 1075.6 L2012.0 1108.6 L2012.0 1166.8 L2012.1 1189.2 L2012.4 1069.4 L2013.0 1073.5 L2013.0 1128.2 L2013.3 1152.7 L2013.9 1081.6 L2014.0 1144.0 L2014.0 1094.7 L2014.2 1170.6 L2014.8 1083.1 L2015.0 1116.1 L2015.0 1109.4 L2015.2 1195.8 L2015.4 1085.6 L2016.0 1113.1 L2016.0 1121.0 L2016.2 1087.6 L2016.5 1169.0 L2017.0 1122.0 L2017.0 1121.6 L2017.1 1087.7 L2017.2 1195.7 L2018.0 1127.6 L2018.0 1176.4 L2018.4 1177.9 L2018.7 1096.6 L2019.0 1172.7 L2019.0 1103.2 L2019.2 1101.6 L2020.0 1171.6 L2020.0 1135.3 L2020.2 1105.1 L2020.7 1206.0 L2021.0 1154.4 L2021.0 1136.7 L2021.2 1187.4 L2021.9 1117.6 L2022.0 1151.3 L2022.0 1140.8 L2022.4 1121.4 L2022.9 1211.8 L2023.0 1159.8 L2023.0 1142.0 L2023.3 1206.1 L2023.6 1111.9 L2024.0 1140.8 L2024.0 1148.1 L2024.8 1124.5 L2024.9 1201.1 L2025.0 1150.1 L2025.0 1138.7 L2025.1 1120.8 L2025.7 1206.1 L2026.0 1138.3 L2026.0 1159.3 L2026.2 1214.1 L2026.9 1113.7 L2027.0 1133.6 L2027.0 1147.1 L2027.3 1136.2 L2027.5 1199.3 L2028.0 1165.8 L2028.0 1169.7 L2028.1 1141.5 L2028.5 1219.5 L2029.0 1207.9 L2029.0 1177.4 L2029.2 1218.8 L2029.4 1128.1 L2030.0 1139.5 L2030.0 1174.0 L2030.2 1206.6 L2030.8 1133.5 L2031.0 1179.9 L2031.0 1187.8 L2031.9 1147.4 L2032.0 1218.9 L2032.0 1192.1 L2032.4 1200.4 L2032.5 1130.0 L2033.0 1178.1 L2033.0 1148.5 L2033.1 1222.8 L2033.9 1133.1 L2034.0 1178.7 L2034.0 1150.8 L2034.1 1133.7 L2034.8 1206.8 L2035.0 1164.3 L2035.0 1205.7 L2035.2 1133.7 L2036.0 1173.5 L2036.0 1142.3 L2036.4 1140.7 L2036.5 1212.7 L2037.0 1151.8 L2037.0 1162.0 L2037.1 1224.0 L2037.7 1145.6 L2038.0 1174.8 L2038.0 1184.3 L2038.2 1138.8 L2038.8 1205.2 L2039.0 1167.3 L2039.0 1159.6 L2039.0 1144.8 L2039.6 1222.0 L2040.0 1191.9 L2040.0 1209.2 L2040.1 1227.4 L2040.2 1136.7 L2041.0 1149.3 L2041.0 1155.0 L2041.3 1226.6 L2041.7 1138.0 L2042.0 1156.3 L2042.0 1180.7 L2042.2 1219.5 L2042.9 1128.7 L2043.0 1178.1 L2043.0 1149.7 L2043.1 1131.6 L2043.4 1204.3 L2044.0 1151.9 L2044.0 1190.2 L2044.2 1140.3 L2044.6 1223.2 L2045.0 1170.0 L2045.0 1151.0 L2045.2 1231.4 L2045.6 1136.6 L2046.0 1153.3 L2046.0 1172.0 L2046.6 1202.8 L2046.8 1131.4 L2047.0 1152.4 L2047.0 1146.5 L2047.6 1223.3 L2047.8 1139.3 L2048.0 1173.8 L2048.0 1169.9 L2048.6 1127.3 L2048.7 1236.2 L2049.0 1149.9 L2049.0 1141.9 L2049.5 1212.2 L2049.9 1133.4 L2050.0 1166.9 L2050.0 1182.8 L2050.6 1141.2 L2050.8 1233.4 L2051.0 1199.2 L2051.0 1166.2 L2051.6 1127.8 L2051.6 1225.0 L2052.0 1138.7 L2052.0 1166.0 L2052.1 1138.0 L2053.0 1231.5 L2053.0 1157.7 L2053.4 1207.2 L2054.0 1141.3 L2054.0 1167.2 L2054.2 1138.4 L2054.6 1226.2 L2055.0 1154.2 L2055.0 1145.3 L2055.2 1120.0 L2055.9 1204.6 L2056.0 1179.4 L2056.0 1176.5 L2056.1 1215.7 L2056.9 1130.9 L2057.0 1170.3 L2057.0 1183.5 L2057.0 1132.2 L2057.3 1225.2 L2058.0 1150.3 L2058.0 1159.2 L2058.8 1222.7 L2058.8 1145.8 L2059.0 1197.5 L2059.0 1165.6 L2059.2 1216.5 L2059.8 1117.8 L2060.0 1148.6 L2060.0 1206.1 L2060.1 1119.7 L2060.4 1210.8 L2061.0 1161.0 L2061.0 1171.7 L2061.5 1222.5 L2061.7 1129.5 L2062.0 1159.6 L2062.0 1147.3 L2062.1 1212.3 L2062.8 1132.3 L2063.0 1184.5 L2063.0 1162.1 L2063.7 1213.6 L2063.8 1130.6 L2064.0 1177.3 L2064.0 1170.5 L2064.4 1133.4 L2064.9 1196.3 L2065.0 1176.9 L2065.0 1146.9 L2065.3 1206.6 L2065.6 1135.7 L2066.0 1139.3 L2066.0 1177.2 L2066.3 1187.8 L2066.5 1134.3 L2067.0 1158.2 L2067.0 1152.3 L2067.4 1187.0 L2067.7 1133.6 L2068.0 1170.4 L2068.0 1160.1 L2068.1 1135.8 L2068.5 1204.4 L2069.0 1149.6 L2069.0 1162.8 L2070.0 1138.7 L2070.0 1214.9 L2070.0 1146.5 L2070.4 1213.7 L2070.7 1128.9 L2071.0 1159.8 L2071.0 1170.9 L2071.3 1186.6 L2071.6 1133.8 L2072.0 1165.8 L2072.0 1152.5 L2072.2 1219.1 L2072.3 1130.0 L2073.0 1169.7 L2073.0 1173.1 L2073.3 1135.6 L2073.3 1189.2 L2074.0 1158.0 L2074.0 1182.1 L2074.6 1126.1 L2075.0 1156.8 L2075.0 1159.1 L2075.3 1201.1 L2075.6 1124.3 L2076.0 1167.9 L2076.0 1152.6 L2076.3 1133.4 L2076.5 1230.7 L2077.0 1204.1 L2077.0 1131.6 L2077.6 1219.7 L2078.0 1128.3 L2078.0 1150.4 L2078.1 1205.0 L2078.3 1114.9 L2079.0 1146.5 L2079.0 1210.7 L2079.2 1242.1 L2079.6 1123.5 L2080.0 1168.0 L2080.0 1136.8 L2080.4 1119.9 L2080.8 1208.5 L2081.0 1158.7 L2081.0 1152.1 L2081.3 1229.1 L2081.7 1131.9 L2082.0 1155.6 L2082.0 1141.6 L2082.2 1137.8 L2082.9 1225.9 L2083.0 1173.3 L2083.0 1184.6 L2083.1 1203.5 L2083.5 1121.6 L2084.0 1166.2 L2084.0 1177.4 L2084.6 1196.2 L2084.8 1142.0 L2085.0 1173.9 L2085.0 1152.4 L2085.7 1136.9 L2085.9 1212.5 L2086.0 1177.1 L2086.0 1180.3 L2086.4 1128.7 L2086.6 1204.2 L2087.0 1133.0 L2087.0 1155.9 L2087.3 1207.3 L2087.8 1138.9 L2088.0 1141.2 L2088.0 1180.9 L2088.7 1139.9 L2088.8 1195.5 L2089.0 1140.6 L2089.0 1168.7 L2089.4 1186.1 L2090.0 1128.4 L2090.0 1183.8 L2090.3 1193.7 L2090.6 1122.3 L2091.0 1170.4 L2091.0 1170.7 L2091.1 1135.1 L2091.5 1232.4 L2092.0 1148.2 L2092.0 1145.2 L2092.4 1136.8 L2092.5 1207.9 L2093.0 1181.0 L2093.0 1212.4 L2093.3 1216.8 L2093.8 1131.8 L2094.0 1173.4 L2094.0 1155.6 L2094.5 1214.7 L2094.6 1139.7 L2095.0 1151.2 L2095.0 1147.9 L2095.5 1128.9 L2095.6 1200.8 L2096.0 1176.8 L2096.0 1148.5 L2096.3 1222.6 L2096.6 1135.8 L2097.0 1143.3 L2097.0 1171.3 L2097.3 1137.6 L2097.4 1217.1 L2098.0 1147.9 L2098.0 1196.0 L2098.2 1221.6 L2098.9 1135.3 L2099.0 1150.8 L2099.0 1176.2 L2099.2 1207.1 L2099.9 1120.1 L2100.0 1155.3 L2100.0 1146.6 L2100.2 1135.7 L2100.8 1210.3 L2101.0 1146.3 L2101.0 1156.6 L2101.5 1136.8 L2101.8 1202.4 L2102.0 1166.1 L2102.0 1169.6 L2102.6 1138.0 L2102.8 1209.8 L2103.0 1148.2 L2103.0 1181.7 L2103.6 1216.3 L2104.0 1124.9 L2104.0 1182.7 L2104.0 1159.9 L2104.5 1211.0 L2104.7 1140.5 L2105.0 1150.0 L2105.0 1155.0 L2105.2 1127.3 L2105.6 1192.8 L2106.0 1151.6 L2106.0 1150.1 L2106.1 1132.5 L2106.4 1214.7 L2107.0 1158.7 L2107.0 1164.5 L2107.2 1130.3 L2107.7 1194.6 L2108.0 1136.4 L2108.0 1178.1 L2108.1 1197.2 L2108.1 1131.0 L2109.0 1135.5 L2109.0 1159.2 L2109.1 1125.0 L2109.9 1207.4 L2110.0 1152.5 L2110.0 1132.2 L2110.4 1235.3 L2110.8 1131.4 L2111.0 1150.3 L2111.0 1169.2 L2111.1 1137.9 L2111.3 1203.8 L2112.0 1180.3 L2112.0 1131.1 L2112.6 1112.4 L2112.7 1206.5 L2113.0 1155.0 L2113.0 1155.3 L2113.7 1221.8 L2113.9 1127.4 L2114.0 1145.5 L2114.0 1186.0 L2114.3 1145.2 L2114.8 1230.4 L2115.0 1145.3 L2115.0 1166.3 L2115.6 1138.6 L2115.7 1233.0 L2116.0 1169.5 L2116.0 1204.2 L2116.4 1125.1 L2116.6 1219.9 L2117.0 1133.6 L2117.0 1191.7 L2117.3 1211.5 L2117.4 1137.9 L2118.0 1184.0 L2118.0 1173.5 L2118.3 1122.6 L2118.5 1201.9 L2119.0 1142.4 L2119.0 1179.4 L2119.6 1132.2 L2120.0 1217.1 L2120.0 1153.9 L2120.0 1155.0 L2120.1 1201.8 L2120.4 1130.7 L2121.0 1188.4 L2121.0 1143.2 L2121.3 1197.7 L2121.9 1128.8 L2122.0 1132.1 L2122.0 1154.6 L2122.4 1218.4 L2122.4 1139.1 L2123.0 1164.6 L2123.0 1162.2 L2123.5 1131.1 L2124.0 1208.2 L2124.0 1165.3 L2124.0 1164.6 L2124.3 1139.2 L2124.5 1205.2 L2125.0 1181.8 L2125.0 1164.5 L2125.3 1210.3 L2125.7 1131.5 L2126.0 1161.3 L2126.0 1171.5 L2126.5 1202.4 L2126.8 1136.5 L2127.0 1157.5 L2127.0 1198.5 L2127.3 1220.9 L2127.7 1132.2 L2128.0 1183.1 L2128.0 1175.0 L2128.1 1231.8 L2128.7 1127.8 L2129.0 1142.7 L2129.0 1173.7 L2129.2 1244.7 L2129.7 1133.6 L2130.0 1153.4 L2130.0 1175.8 L2130.1 1134.1 L2130.3 1218.2 L2131.0 1167.5 L2131.0 1166.6 L2131.1 1138.1 L2132.0 1204.3 L2132.0 1152.4 L2132.0 1172.0 L2132.2 1190.5 L2132.7 1131.5 L2133.0 1190.1 L2133.0 1159.6 L2133.2 1189.7 L2133.8 1136.9 L2134.0 1163.0 L2134.0 1136.8 L2134.4 1207.9 L2134.4 1130.5 L2135.0 1160.5 L2135.0 1206.6 L2135.1 1217.6 L2135.3 1130.4 L2136.0 1143.4 L2136.0 1150.2 L2136.1 1132.8 L2136.4 1212.8 L2137.0 1178.4 L2137.0 1133.8 L2137.1 1193.6 L2137.4 1120.5 L2138.0 1187.7 L2138.0 1216.2 L2138.4 1140.1 L2138.7 1219.0 L2139.0 1154.1 L2139.0 1163.0 L2139.8 1197.3 L2139.8 1129.4 L2140.0 1168.4 L2140.0 1127.9 L2140.0 1210.3 L2141.0 1185.7 L2141.0 1179.6 L2141.2 1201.6 L2141.3 1132.6 L2142.0 1172.4 L2142.0 1143.4 L2142.3 1231.4 L2142.6 1121.3 L2143.0 1131.8 L2143.0 1169.3 L2143.3 1218.5 L2143.7 1128.9 L2144.0 1150.3 L2144.0 1166.3 L2144.5 1121.3 L2144.6 1218.7 L2145.0 1158.8 L2145.0 1175.2 L2145.1 1130.9 L2145.5 1209.4 L2146.0 1149.5 L2146.0 1173.2 L2146.4 1186.7 L2146.4 1130.0 L2147.0 1148.9 L2147.0 1145.9 L2147.1 1224.7 L2147.4 1124.5 L2148.0 1177.7 L2148.0 1196.4 L2148.4 1206.7 L2149.0 1128.2 L2149.0 1154.2 L2149.0 1147.3 L2149.5 1136.3 L2149.8 1215.4 L2150.0 1161.1 L2150.0 1170.5 L2150.2 1205.6 L2150.4 1135.0 L2151.0 1159.8 L2151.0 1172.2 L2151.4 1135.5 L2152.0 1211.5 L2152.0 1163.6 L2152.0 1165.5 L2152.4 1202.3 L2152.4 1134.0 L2153.0 1178.7 L2153.0 1149.8 L2153.9 1204.7 L2154.0 1131.1 L2154.0 1141.2 L2154.3 1214.8 L2154.8 1129.2 L2155.0 1165.5 L2155.0 1159.0 L2155.2 1210.5 L2155.7 1133.4 L2156.0 1190.0 L2156.0 1147.9 L2156.9 1217.7 L2156.9 1135.8 L2157.0 1162.2 L2157.0 1170.4 L2157.3 1201.0 L2157.5 1136.8 L2158.0 1172.9 L2158.0 1199.3 L2158.2 1204.7 L2158.8 1143.1 L2159.0 1159.5 L2159.0 1166.8 L2159.3 1241.6 L2160.0 1129.2 L2160.0 1195.7 L2160.0 1178.3 L2160.7 1136.5 L2160.9 1219.0 L2161.0 1207.3 L2161.0 1149.5 L2161.2 1197.3 L2162.0 1125.5 L2162.0 1154.5 L2162.0 1163.8 L2162.6 1126.0 L2162.9 1204.0 L2163.0 1152.6 L2163.0 1150.1 L2163.1 1201.7 L2163.2 1122.2 L2164.0 1150.5 L2164.0 1200.8 L2164.3 1131.7 L2165.0 1233.6 L2165.0 1176.3 L2165.0 1128.1 L2165.8 1212.5 L2166.0 1183.7 L2166.0 1149.4 L2166.1 1232.2 L2166.4 1133.3 L2167.0 1144.0 L2167.0 1146.0 L2167.5 1129.6 L2167.8 1195.4 L2168.0 1171.8 L2168.0 1148.0 L2168.1 1131.4 L2168.4 1210.2 L2169.0 1162.3 L2169.0 1180.9 L2169.1 1234.6 L2169.3 1133.5 L2170.0 1178.5 L2170.0 1184.2 L2170.2 1137.0 L2170.3 1204.4 L2171.0 1148.1 L2171.0 1176.4 L2171.6 1123.4 L2171.9 1191.5 L2172.0 1187.4 L2172.0 1178.7 L2172.4 1126.3 L2173.0 1209.1 L2173.0 1159.8 L2173.0 1173.2 L2173.2 1130.9 L2173.5 1202.6 L2174.0 1143.9 L2174.0 1171.0 L2174.2 1122.6 L2174.8 1194.8 L2175.0 1177.4 L2175.0 1156.1 L2175.2 1129.4 L2175.7 1196.9 L2176.0 1183.4 L2176.0 1181.6 L2176.5 1132.2 L2176.8 1206.1 L2177.0 1154.8 L2177.0 1125.3 L2177.4 1200.4 L2178.0 1144.5 L2178.0 1167.7 L2178.0 1224.3 L2178.4 1133.6 L2179.0 1163.5 L2179.0 1154.4 L2179.2 1130.2 L2179.3 1212.3 L2180.0 1152.3 L2180.0 1151.0 L2180.0 1230.6 L2180.4 1131.2 L2181.0 1181.4 L2181.0 1152.0 L2181.3 1213.3 L2181.7 1128.5 L2182.0 1157.6 L2182.0 1155.5 L2182.1 1127.1 L2182.6 1195.8 L2183.0 1159.6 L2183.0 1138.8 L2183.2 1221.6 L2183.6 1125.0 L2184.0 1162.1 L2184.0 1155.1 L2184.3 1134.6 L2184.3 1210.6 L2185.0 1158.0 L2185.0 1134.1 L2185.8 1204.2 L2185.9 1129.0 L2186.0 1180.6 L2186.0 1181.2 L2186.0 1125.6 L2186.2 1203.4 L2187.0 1157.5 L2187.0 1149.8 L2187.0 1210.6 L2187.1 1123.0 L2188.0 1139.6 L2188.0 1142.8 L2188.3 1131.0 L2188.5 1219.7 L2189.0 1172.1 L2189.0 1166.2 L2189.2 1135.9 L2189.3 1212.2 L2190.0 1160.8 L2190.0 1158.0 L2190.7 1225.7 L2190.7 1126.4 L2191.0 1156.3 L2191.0 1159.2 L2191.1 1126.1 L2191.5 1208.4 L2192.0 1162.5 L2192.0 1157.1 L2192.1 1128.0 L2192.9 1187.1 L2193.0 1153.7 L2193.0 1159.7 L2193.5 1210.9 L2193.5 1131.3 L2194.0 1143.5 L2194.0 1136.3 L2194.4 1197.4 L2194.9 1135.2 L2195.0 1185.5 L2195.0 1148.8 L2195.0 1127.7 L2195.1 1208.7 L2195.8 1141.8" stroke="#00A6A6"/>
<path d="M314.0 380.5 L451.1 348.0 L531.3 376.4 L588.3 408.4 L632.4 417.0 L668.5 372.7 L699.0 332.1 L725.4 329.6 L748.7 315.0 L769.6 320.5 L788.4 318.3 L805.7 333.3 L821.5 355.3 L836.2 376.3 L849.8 411.1 L862.6 477.9 L874.6 466.9 L885.9 460.5 L896.6 466.0 L906.7 453.2 L916.4 475.2 L925.6 485.8 L934.4 483.4 L942.8 479.7 L950.9 479.7 L958.7 491.6 L966.1 498.9 L973.3 487.0 L980.3 468.7 L987.0 467.5 L993.5 470.6 L999.7 452.3 L1005.8 462.3 L1011.7 453.2 L1017.5 440.3 L1023.0 444.2 L1028.5 471.4 L1033.7 472.1 L1038.9 442.9 L1043.9 433.1 L1048.8 447.4 L1053.6 439.0 L1058.2 400.0 L1062.8 379.2 L1067.2 390.9 L1071.6 400.0 L1075.8 416.9 L1080.0 461.0 L1084.1 424.7 L1088.1 431.2 L1092.0 417.5 L1095.8 432.5 L1099.6 453.2 L1103.3 442.9 L1106.9 431.2 L1110.5 444.2 L1114.0 440.3 L1117.4 428.6 L1120.8 442.9 L1124.1 496.1 L1127.4 490.9 L1130.6 471.4 L1133.8 455.8 L1136.9 451.3 L1140.0 470.1 L1143.0 455.2 L1146.0 458.4 L1148.9 475.3 L1151.8 451.9 L1154.6 455.8 L1157.4 471.4 L1160.2 451.9 L1162.9 468.8 L1165.6 492.2 L1168.3 498.7 L1170.9 477.3 L1173.5 490.9 L1176.0 501.3 L1178.6 477.9 L1181.1 493.5 L1183.5 484.4 L1185.9 468.2 L1188.3 475.3 L1190.7 511.7 L1193.1 464.3 L1195.4 494.8 L1197.7 472.7 L1199.9 480.5 L1202.2 471.4 L1204.4 467.5 L1206.5 463.0 L1208.7 474.0 L1210.8 497.4 L1213.0 468.8 L1215.1 439.0 L1217.1 472.7 L1219.2 474.0 L1221.2 472.7 L1223.2 473.4 L1225.2 481.8 L1227.2 487.0 L1229.1 481.8 L1231.1 459.7 L1233.0 479.2 L1234.9 494.8 L1236.7 496.8 L1238.6 484.6 L1240.4 496.9 L1242.3 527.3 L1244.1 499.5 L1245.9 491.9 L1247.6 494.7 L1249.4 511.9 L1251.1 534.2 L1252.9 514.2 L1254.6 511.0 L1256.3 524.6 L1258.0 534.0 L1259.6 517.6 L1261.3 523.6 L1262.9 536.7 L1264.6 533.8 L1266.2 510.3 L1267.8 494.9 L1269.4 497.9 L1270.9 499.3 L1272.5 513.0 L1274.1 544.5 L1275.6 534.7 L1277.1 540.5 L1278.6 534.3 L1280.1 520.9 L1281.6 511.9 L1283.1 515.3 L1284.6 517.5 L1286.1 508.7 L1287.5 515.7 L1288.9 537.1 L1290.4 548.7 L1291.8 542.8 L1293.2 531.5 L1294.6 528.3 L1296.0 538.6 L1297.4 540.4 L1298.7 533.4 L1300.1 540.0 L1301.4 564.3 L1302.8 562.1 L1304.1 561.6 L1305.4 574.1 L1306.8 563.7 L1308.1 546.4 L1309.4 543.6 L1310.6 540.6 L1311.9 563.7 L1313.2 567.3 L1314.5 555.9 L1315.7 568.8 L1317.0 567.9 L1318.2 580.4 L1319.4 605.4 L1320.7 595.1 L1321.9 590.2 L1323.1 584.5 L1324.3 574.3 L1325.5 562.4 L1326.7 583.5 L1327.9 579.9 L1329.0 563.0 L1330.2 589.4 L1331.4 583.8 L1332.5 579.9 L1333.7 609.4 L1334.8 584.5 L1335.9 567.9 L1337.1 580.5 L1338.2 572.5 L1339.3 573.6 L1340.4 591.8 L1341.5 577.5 L1342.6 566.3 L1343.7 586.9 L1344.8 614.6 L1345.9 586.2 L1346.9 594.5 L1348.0 591.7 L1349.1 610.7 L1350.1 608.7 L1351.2 583.3 L1352.2 595.8 L1353.3 580.2 L1354.3 567.0 L1355.3 575.5 L1356.3 591.8 L1357.4 603.4 L1358.4 589.8 L1359.4 590.1 L1360.4 620.4 L1361.4 605.5 L1362.4 592.0 L1363.4 566.5 L1364.3 566.3 L1365.3 600.5 L1366.3 599.3 L1367.3 595.9 L1368.2 604.8 L1369.2 594.2 L1370.1 597.4 L1371.1 623.1 L1372.0 608.5 L1373.0 619.7 L1373.9 603.9 L1374.8 590.4 L1375.8 605.0 L1376.7 640.0 L1377.6 625.3 L1378.5 615.0 L1379.4 622.8 L1380.3 596.7 L1381.2 611.2 L1382.1 617.2 L1383.0 600.5 L1383.9 610.9 L1384.8 640.0 L1385.7 610.2 L1386.6 595.9 L1387.4 602.6 L1388.3 619.3 L1389.2 613.6 L1390.0 618.9 L1390.9 634.5 L1391.7 626.3 L1392.6 633.7 L1393.4 614.1 L1394.3 600.6 L1395.1 614.1 L1396.0 645.7 L1396.8 630.9 L1397.6 605.6 L1398.4 602.7 L1399.3 608.3 L1400.1 639.5 L1400.9 637.3 L1401.7 622.9 L1402.5 625.3 L1403.3 647.0 L1404.1 626.7 L1404.9 621.6 L1405.7 635.8 L1406.5 658.0 L1407.3 646.5 L1408.1 636.4 L1408.9 613.9 L1409.7 609.8 L1410.4 632.8 L1411.2 653.5 L1412.0 661.9 L1412.8 627.9 L1413.5 626.3 L1414.3 646.5 L1415.0 628.2 L1415.8 626.3 L1416.6 645.1 L1417.3 657.5 L1418.1 629.0 L1418.8 634.9 L1419.5 657.7 L1420.3 672.5 L1421.0 627.4 L1421.7 627.0 L1422.5 632.6 L1423.2 643.0 L1423.9 663.9 L1424.7 678.4 L1425.4 676.4 L1426.1 665.0 L1426.8 662.2 L1427.5 642.3 L1428.2 639.4 L1428.9 636.6 L1429.7 658.0 L1430.4 689.2 L1431.1 663.8 L1431.8 647.1 L1432.4 646.0 L1433.1 641.2 L1433.8 652.7 L1434.5 674.7 L1435.2 691.4 L1435.9 678.7 L1436.6 653.5 L1437.2 641.4 L1437.9 645.8 L1438.6 650.0 L1439.3 645.3 L1439.9 655.4 L1440.6 664.2 L1441.3 663.4 L1441.9 659.0 L1442.6 655.4 L1443.3 646.4 L1443.9 660.7 L1444.6 691.9 L1445.2 671.6 L1445.9 664.2 L1446.5 661.5 L1447.2 674.4 L1447.8 659.7 L1448.4 655.0 L1449.1 654.3 L1449.7 649.6 L1450.4 653.8 L1451.0 655.4 L1451.6 660.4 L1452.3 676.5 L1452.9 693.2 L1453.5 705.0 L1454.1 671.7 L1454.7 669.6 L1455.4 661.5 L1456.0 655.5 L1456.6 665.3 L1457.2 682.5 L1457.8 678.0 L1458.4 693.3 L1459.0 704.1 L1459.7 679.4 L1460.3 662.7 L1460.9 672.5 L1461.5 684.7 L1462.1 676.0 L1462.7 691.3 L1463.2 724.5 L1463.8 725.2 L1464.4 701.9 L1465.0 681.4 L1465.6 673.9 L1466.2 665.0 L1466.8 675.2 L1467.4 691.7 L1467.9 678.4 L1468.5 692.6 L1469.1 696.2 L1469.7 734.2 L1470.3 717.1 L1470.8 691.0 L1471.4 695.1 L1472.0 693.6 L1472.5 669.6 L1473.1 694.7 L1473.7 730.5 L1474.2 717.4 L1474.8 701.9 L1475.3 686.9 L1475.9 689.5 L1476.5 714.4 L1477.0 722.2 L1477.6 704.9 L1478.1 694.6 L1478.7 685.9 L1479.2 694.5 L1479.8 717.6 L1480.3 705.1 L1480.9 715.9 L1481.4 743.4 L1481.9 734.8 L1482.5 703.7 L1483.0 681.6 L1483.6 690.1 L1484.1 713.7 L1484.6 721.9 L1485.2 701.1 L1485.7 715.2 L1486.2 741.7 L1486.8 737.1 L1487.3 721.2 L1487.8 734.0 L1488.3 702.9 L1488.9 695.2 L1489.4 711.3 L1489.9 708.4 L1490.4 691.2 L1490.9 680.0 L1491.4 689.8 L1492.0 710.1 L1492.5 729.0 L1493.0 725.9 L1493.5 722.5 L1494.0 714.3 L1494.5 700.9 L1495.0 718.4 L1495.5 736.4 L1496.0 723.7 L1496.5 698.0 L1497.0 700.6 L1497.5 717.4 L1498.0 705.9 L1498.5 725.4 L1499.0 755.5 L1499.5 756.7 L1500.0 764.8 L1500.5 772.3 L1501.0 770.4 L1501.5 758.8 L1502.0 752.5 L1502.5 742.7 L1503.0 724.3 L1503.4 701.3 L1503.9 699.0 L1504.4 697.7 L1504.9 698.7 L1505.4 699.3 L1505.9 713.2 L1506.3 723.8 L1506.8 716.5 L1507.3 719.2 L1507.8 717.6 L1508.2 719.0 L1508.7 720.5 L1509.2 701.3 L1509.6 709.3 L1510.1 724.3 L1510.6 732.5 L1511.1 723.9 L1511.5 740.0 L1512.0 714.2 L1512.4 704.6 L1512.9 739.4 L1513.4 771.9 L1513.8 752.1 L1514.3 738.4 L1514.8 740.1 L1515.2 729.9 L1515.7 720.9 L1516.1 737.6 L1516.6 710.6 L1517.0 710.8 L1517.5 732.7 L1517.9 773.2 L1518.4 718.5 L1518.8 721.8 L1519.3 727.4 L1519.7 712.5 L1520.2 695.2 L1520.6 694.4 L1521.1 720.1 L1521.5 722.7 L1521.9 723.2 L1522.4 714.4 L1522.8 711.2 L1523.3 720.4 L1523.7 721.8 L1524.1 754.9 L1524.6 747.0 L1525.0 759.6 L1525.5 737.9 L1525.9 748.0 L1526.3 743.4 L1526.7 738.2 L1527.2 770.0 L1527.6 734.9 L1528.0 748.2 L1528.5 750.6 L1528.9 763.8 L1529.3 748.0 L1529.7 741.5 L1530.2 749.6 L1530.6 761.9 L1531.0 749.4 L1531.4 721.8 L1531.9 732.3 L1532.3 742.8 L1532.7 741.3 L1533.1 750.2 L1533.5 745.5 L1533.9 735.4 L1534.4 767.7 L1534.8 748.5 L1535.2 735.0 L1535.6 745.4 L1536.0 764.3 L1536.4 751.7 L1536.8 738.6 L1537.2 749.7 L1537.7 745.2 L1538.1 752.8 L1538.5 747.4 L1538.9 785.6 L1539.3 743.0 L1539.7 749.3 L1540.1 719.8 L1540.5 720.3 L1540.9 729.4 L1541.3 724.7 L1541.7 739.2 L1542.1 741.3 L1542.5 766.9 L1542.9 803.1 L1543.3 758.6 L1543.7 744.7 L1544.1 739.6 L1544.5 770.2 L1544.9 790.0 L1545.3 786.0 L1545.6 768.3 L1546.0 757.5 L1546.4 738.6 L1546.8 739.3 L1547.2 765.1 L1547.6 728.8 L1548.0 722.3 L1548.4 738.5 L1548.8 774.7 L1549.1 760.0 L1549.5 772.0 L1549.9 762.3 L1550.3 747.9 L1550.7 803.2 L1551.1 792.8 L1551.4 787.8 L1551.8 773.5 L1552.2 776.6 L1552.6 753.6 L1553.0 751.4 L1553.3 786.8 L1553.7 758.6 L1554.1 770.0 L1554.5 754.0 L1554.8 786.4 L1555.2 772.7 L1555.6 762.5 L1556.0 725.2 L1556.3 749.7 L1556.7 752.8 L1557.1 750.9 L1557.4 772.8 L1557.8 761.3 L1558.2 780.3 L1558.5 771.8 L1558.9 770.5 L1559.3 752.8 L1559.6 730.7 L1560.0 759.3 L1560.4 778.9 L1560.7 778.9 L1561.1 736.7 L1561.5 773.3 L1561.8 768.5 L1562.2 757.6 L1562.5 766.4 L1562.9 743.1 L1563.3 756.1 L1563.6 752.6 L1564.0 730.9 L1564.3 755.6 L1564.7 773.5 L1565.0 771.2 L1565.4 733.7 L1565.7 757.1 L1566.1 737.5 L1566.5 773.0 L1566.8 773.4 L1567.2 777.3 L1567.5 765.4 L1567.9 760.7 L1568.2 742.1 L1568.6 765.4 L1568.9 741.2 L1569.3 720.4 L1569.6 731.0 L1570.0 748.1 L1570.3 751.8 L1570.6 716.2 L1571.0 740.5 L1571.3 790.1 L1571.7 706.7 L1572.0 722.7 L1572.4 738.0 L1572.7 745.5 L1573.0 714.2 L1573.4 726.1 L1573.7 719.1 L1574.1 727.9 L1574.4 717.1 L1574.7 746.3 L1575.1 732.8 L1575.4 759.4 L1575.8 802.6 L1576.1 726.9 L1576.4 733.5 L1576.8 733.3 L1577.1 758.8 L1577.4 726.0 L1577.8 729.0 L1578.1 707.7 L1578.4 711.1 L1578.8 736.7 L1579.1 731.6 L1579.4 767.0 L1579.8 710.6 L1580.1 726.9 L1580.4 731.3 L1580.7 735.0 L1581.1 763.0 L1581.4 725.7 L1581.7 713.1 L1582.0 764.9 L1582.4 771.3 L1582.7 710.2 L1583.0 737.8 L1583.3 766.2 L1583.7 737.8 L1584.0 752.2 L1584.3 758.3 L1584.6 736.7 L1585.0 718.3 L1585.3 753.5 L1585.6 738.8 L1585.9 741.8 L1586.2 720.0 L1586.6 719.9 L1586.9 749.5 L1587.2 732.9 L1587.5 698.6 L1587.8 714.0 L1588.1 722.9 L1588.5 709.5 L1588.8 693.4 L1589.1 719.4 L1589.4 714.0 L1589.7 733.4 L1590.0 702.7 L1590.3 753.7 L1590.7 763.7 L1591.0 701.0 L1591.3 714.6 L1591.6 764.1 L1591.9 693.9 L1592.2 713.3 L1592.5 703.7 L1592.8 698.2 L1593.1 678.8 L1593.5 671.6 L1593.8 721.2 L1594.1 707.9 L1594.4 667.6 L1594.7 724.7 L1595.0 714.3 L1595.3 736.3 L1595.6 697.0 L1595.9 693.5 L1596.2 710.6 L1596.5 676.2 L1596.8 657.6 L1597.1 680.5 L1597.4 710.4 L1597.7 672.0 L1598.0 649.6 L1598.3 673.2 L1598.6 665.8 L1598.9 684.6 L1599.2 732.5 L1599.5 729.6 L1599.8 688.2 L1600.1 733.6 L1600.4 689.1 L1600.7 719.9 L1601.0 674.2 L1601.3 704.4 L1601.6 708.3 L1601.9 702.3 L1602.2 680.5 L1602.5 700.6 L1602.8 697.5 L1603.1 723.7 L1603.4 673.4 L1603.6 701.4 L1603.9 697.0 L1604.2 701.8 L1604.5 674.7 L1604.8 700.7 L1605.1 752.1 L1605.4 698.0 L1605.7 694.8 L1606.0 695.4 L1606.3 689.8 L1606.5 724.7 L1606.8 693.5 L1607.1 659.1 L1607.4 676.8 L1607.7 692.6 L1608.0 686.7 L1608.3 703.4 L1608.6 678.0 L1608.8 658.9 L1609.1 675.2 L1609.4 728.9 L1609.7 691.2 L1610.0 669.6 L1610.3 723.1 L1610.5 697.2 L1610.8 686.0 L1611.1 678.7 L1611.4 675.7 L1611.7 737.1 L1611.9 685.3 L1612.2 708.4 L1612.5 653.3 L1612.8 698.1 L1613.1 721.3 L1613.3 677.3 L1613.6 715.3 L1613.9 700.3 L1614.2 730.7 L1614.5 697.9 L1614.7 708.3 L1615.0 681.7 L1615.3 687.6 L1615.6 691.9 L1615.8 695.5 L1616.1 704.5 L1616.4 714.9 L1616.7 699.7 L1616.9 762.5 L1617.2 696.9 L1617.5 701.0 L1617.7 684.5 L1618.0 680.8 L1618.3 756.3 L1618.6 709.9 L1618.8 705.0 L1619.1 718.1 L1619.4 692.0 L1619.6 766.7 L1619.9 706.8 L1620.2 726.9 L1620.4 689.4 L1620.7 739.4 L1621.0 703.8 L1621.3 698.8 L1621.5 715.7 L1621.8 726.8 L1622.1 702.4 L1622.3 690.9 L1622.6 738.8 L1622.9 705.2 L1623.1 729.6 L1623.4 720.7 L1623.6 694.3 L1623.9 749.4 L1624.2 714.4 L1624.4 707.3 L1624.7 707.6 L1625.0 751.6 L1625.2 752.0 L1625.5 751.3 L1625.7 703.7 L1626.0 709.7 L1626.3 795.9 L1626.5 713.1 L1626.8 712.6 L1627.1 727.6 L1627.3 765.8 L1627.6 793.7 L1627.8 727.3 L1628.1 771.2 L1628.3 712.7 L1628.6 752.6 L1628.9 725.1 L1629.1 741.2 L1629.4 771.7 L1629.6 718.9 L1629.9 745.8 L1630.1 711.5 L1630.4 721.7 L1630.7 748.9 L1630.9 731.4 L1631.2 721.0 L1631.4 706.9 L1631.7 761.7 L1631.9 731.4 L1632.2 750.4 L1632.4 776.7 L1632.7 727.1 L1632.9 740.4 L1633.2 749.1 L1633.4 761.1 L1633.7 730.2 L1633.9 768.8 L1634.2 745.7 L1634.4 721.1 L1634.7 774.6 L1634.9 759.3 L1635.2 751.4 L1635.4 747.4 L1635.7 766.3 L1635.9 749.9 L1636.2 744.2 L1636.4 726.2 L1636.7 765.7 L1636.9 756.1 L1637.2 727.9 L1637.4 759.4 L1637.7 802.8 L1637.9 817.9 L1638.2 774.4 L1638.4 787.5 L1638.6 766.7 L1638.9 799.7 L1639.1 772.1 L1639.4 820.5 L1639.6 759.1 L1639.9 796.3 L1640.1 814.0 L1640.4 729.8 L1640.6 764.4 L1640.8 816.9 L1641.1 780.8 L1641.3 771.3 L1641.6 752.7 L1641.8 776.4 L1642.0 767.3 L1642.3 757.3 L1642.5 750.0 L1642.8 770.2 L1643.0 763.8 L1643.5 813.5 L1644.0 749.0 L1644.2 740.3 L1644.4 782.3 L1644.7 805.6 L1644.9 795.2 L1645.2 775.6 L1645.4 761.2 L1645.6 774.1 L1645.9 766.4 L1646.1 783.7 L1646.3 764.1 L1646.6 787.9 L1646.8 796.2 L1647.0 756.2 L1647.3 798.6 L1648.0 796.4 L1648.2 782.4 L1648.4 765.4 L1648.7 800.1 L1648.9 771.2 L1649.1 767.3 L1649.4 766.0 L1649.6 792.8 L1649.8 779.7 L1650.1 819.3 L1650.8 747.3 L1651.0 842.7 L1651.2 799.0 L1651.5 824.3 L1651.7 819.4 L1651.9 817.4 L1652.1 781.5 L1652.4 795.2 L1652.6 780.6 L1652.8 789.3 L1653.1 791.7 L1653.5 768.7 L1654.0 779.7 L1654.2 789.0 L1654.4 810.4 L1654.6 804.7 L1654.9 852.2 L1655.1 789.2 L1655.3 758.3 L1656.0 811.6 L1656.2 825.0 L1656.4 788.8 L1656.7 809.2 L1656.9 776.8 L1657.1 834.7 L1657.6 793.4 L1658.0 800.7 L1658.2 789.6 L1658.4 834.4 L1658.7 781.0 L1658.9 803.1 L1659.1 800.6 L1659.3 820.6 L1659.8 793.1 L1660.0 814.0 L1660.2 799.9 L1660.4 806.2 L1660.6 774.8 L1660.9 777.6 L1661.1 827.2 L1661.3 832.7 L1662.0 799.3 L1662.2 810.3 L1662.4 799.5 L1662.6 795.9 L1662.8 794.4 L1663.0 819.2 L1663.3 824.3 L1663.7 790.0 L1663.9 807.1 L1664.1 822.9 L1664.6 779.5 L1665.0 855.8 L1665.2 822.5 L1665.4 845.5 L1665.6 829.6 L1665.8 800.2 L1666.0 814.1 L1666.5 824.0 L1666.7 795.3 L1666.9 814.6 L1667.1 780.6 L1667.7 848.6 L1668.0 799.0 L1668.2 821.4 L1668.4 811.2 L1668.6 807.0 L1668.8 803.1 L1669.0 821.8 L1669.2 843.7 L1669.4 800.9 L1669.8 812.3 L1670.1 787.8 L1670.5 839.2 L1670.7 784.5 L1670.9 833.9 L1671.1 836.9 L1671.3 850.3 L1671.9 809.3 L1672.1 828.1 L1672.3 837.3 L1672.6 789.8 L1673.0 819.2 L1673.2 850.6 L1673.6 852.7 L1674.0 813.1 L1674.2 815.9 L1674.4 812.5 L1674.6 822.8 L1674.8 803.8 L1675.0 830.9 L1675.4 796.9 L1675.8 820.2 L1676.0 802.0 L1676.8 868.3 L1677.0 822.8 L1677.2 799.0 L1677.4 858.9 L1677.8 834.4 L1678.0 794.6 L1678.4 788.2 L1678.8 856.3 L1679.0 852.5 L1679.2 855.9 L1679.6 826.8 L1679.8 853.5 L1680.0 831.8 L1680.2 866.7 L1680.8 794.3 L1681.0 835.8 L1681.2 813.4 L1681.6 857.0 L1681.8 824.1 L1682.0 846.0 L1682.4 816.6 L1683.0 855.4 L1683.2 839.8 L1683.4 811.7 L1684.0 845.0 L1684.2 797.1 L1684.8 856.5 L1684.9 794.4 L1685.1 855.9 L1685.5 829.4 L1685.9 870.7 L1686.1 819.6 L1686.3 897.6 L1686.7 819.2 L1686.9 831.5 L1687.1 812.1 L1687.3 868.4 L1687.8 838.3 L1688.0 838.3 L1688.6 819.6 L1689.0 876.2 L1689.2 837.5 L1689.5 845.5 L1689.7 808.9 L1689.9 840.9 L1690.1 828.2 L1690.3 883.6 L1690.5 822.8 L1690.9 833.0 L1691.1 835.5 L1691.2 878.8 L1692.0 832.5 L1692.2 843.4 L1692.9 878.2 L1693.1 849.1 L1693.3 839.4 L1693.9 890.7 L1694.0 893.3 L1694.4 855.0 L1695.0 883.9 L1695.1 870.5 L1695.3 910.5 L1695.9 853.7 L1696.1 857.1 L1696.8 919.2 L1697.0 881.9 L1697.2 852.4 L1697.3 900.9 L1697.5 848.5 L1697.9 852.3 L1698.1 878.9 L1698.4 866.2 L1698.6 888.8 L1699.0 870.5 L1699.2 851.3 L1699.9 875.9 L1700.1 872.5 L1700.2 882.3 L1700.9 868.8 L1701.1 870.6 L1701.5 890.0 L1701.8 887.7 L1702.0 873.7 L1702.6 852.8 L1702.9 875.6 L1703.1 898.2 L1703.4 872.8 L1703.8 921.9 L1704.0 895.1 L1704.1 923.8 L1704.7 879.6 L1704.8 888.1 L1705.0 887.5 L1705.2 871.1 L1705.5 921.6 L1705.9 889.4 L1706.1 894.2 L1706.8 869.1 L1706.9 915.6 L1707.1 868.5 L1707.3 886.8 L1708.0 863.7 L1708.1 865.8 L1708.8 891.3 L1709.0 933.3 L1709.5 869.1 L1709.9 940.4 L1710.0 888.8 L1710.4 922.7 L1710.5 851.4 L1710.9 917.3 L1711.1 930.5 L1711.9 880.4 L1712.1 875.9 L1712.2 903.7 L1712.9 902.1 L1713.1 881.5 L1713.4 870.9 L1713.6 930.0 L1713.9 892.8 L1714.1 889.6 L1714.4 884.4 L1714.6 909.7 L1714.9 889.4 L1715.1 927.4 L1715.6 900.9 L1715.9 933.3 L1716.1 889.1 L1716.3 879.7 L1716.4 960.6 L1716.9 895.4 L1717.1 874.0 L1717.7 865.3 L1717.9 932.7 L1718.1 891.8 L1718.7 962.5 L1718.9 925.0 L1719.0 898.1 L1719.2 876.1 L1719.4 915.8 L1719.9 902.4 L1720.0 921.2 L1720.7 929.1 L1721.0 889.7 L1721.2 874.4 L1722.0 955.0 L1722.1 890.0 L1722.6 902.5 L1722.9 897.7 L1723.1 873.2 L1723.2 925.2 L1723.9 902.0 L1724.0 910.5 L1724.4 882.9 L1724.5 945.0 L1725.0 910.3 L1725.1 872.0 L1725.9 933.4 L1726.1 899.2 L1726.7 906.3 L1726.9 885.3 L1727.0 937.4 L1727.2 872.9 L1728.0 887.2 L1728.1 883.6 L1728.9 938.1 L1729.1 920.0 L1729.2 938.1 L1729.4 890.6 L1730.0 916.0 L1730.1 892.1 L1730.6 967.5 L1730.9 878.6 L1731.1 905.5 L1731.4 887.7 L1731.7 927.6 L1732.0 907.1 L1732.1 1001.3 L1732.7 894.8 L1732.9 917.7 L1733.1 892.2 L1733.7 950.2 L1734.0 945.9 L1734.1 901.6 L1734.9 924.5 L1735.0 891.2 L1735.2 932.2 L1735.9 913.0 L1736.1 932.2 L1736.4 888.8 L1736.5 940.3 L1737.0 930.4 L1737.1 898.0 L1737.7 962.3 L1737.9 947.4 L1738.0 956.2 L1738.9 900.7 L1739.0 909.6 L1739.3 894.6 L1739.9 955.2 L1740.1 909.4 L1740.7 897.4 L1740.9 952.7 L1741.1 901.6 L1741.2 974.5 L1741.7 900.3 L1742.0 972.2 L1742.1 926.2 L1742.5 908.1 L1742.7 966.1 L1743.0 934.6 L1743.1 924.2 L1743.3 906.5 L1744.0 959.9 L1744.1 960.9 L1744.9 978.5 L1745.0 901.9 L1745.1 945.2 L1745.6 902.8 L1745.9 948.0 L1746.0 915.6 L1746.1 916.6 L1746.4 910.7 L1747.0 954.1 L1747.1 916.6 L1747.6 908.2 L1747.7 947.4 L1748.0 927.4 L1748.1 902.9 L1748.5 978.8 L1749.0 921.7 L1749.1 944.9 L1749.2 902.5 L1749.9 929.2 L1750.1 960.0 L1750.9 914.8 L1751.1 926.7 L1751.2 961.8 L1751.5 910.9 L1751.9 928.3 L1752.0 959.1 L1752.3 894.2 L1753.0 909.5 L1753.1 909.1 L1753.5 952.7 L1753.9 924.0 L1754.1 960.0 L1754.4 932.1 L1754.9 966.5 L1755.0 924.2 L1755.2 960.1 L1756.0 917.8 L1756.1 937.1 L1756.7 942.4 L1756.8 925.0 L1756.9 937.0 L1757.1 972.3 L1757.2 911.6 L1757.9 919.3 L1758.0 920.7 L1758.7 949.8 L1758.9 947.8 L1759.1 942.9 L1759.7 911.3 L1759.9 988.8 L1760.0 895.9 L1760.4 955.5 L1760.9 950.6 L1761.1 992.7 L1761.3 904.9 L1762.0 923.9 L1762.1 908.3 L1762.2 900.5 L1762.5 966.8 L1762.9 944.8 L1763.0 965.4 L1763.6 909.9 L1763.9 918.1 L1764.1 912.6 L1764.2 912.5 L1764.6 949.0 L1765.0 932.1 L1765.1 917.5 L1765.8 986.7 L1765.9 898.3 L1766.0 933.7 L1766.5 970.7 L1766.7 900.1 L1766.9 959.6 L1767.0 919.8 L1767.2 934.9 L1767.9 897.0 L1768.1 923.8 L1768.6 957.3 L1769.0 900.0 L1769.1 916.7 L1769.3 927.6 L1769.8 886.1 L1770.0 919.7 L1770.1 900.4 L1770.3 941.2 L1771.0 927.6 L1771.1 878.9 L1771.8 958.9 L1772.0 896.6 L1772.1 909.2 L1772.5 887.3 L1772.6 949.9 L1773.0 915.3 L1773.1 900.8 L1773.7 872.6 L1773.8 932.6 L1774.0 895.9 L1774.1 919.6 L1774.5 955.8 L1774.9 879.8 L1775.1 940.7 L1775.2 884.1 L1775.3 955.1 L1775.9 912.3 L1776.1 907.1 L1776.3 877.7 L1776.4 924.1 L1776.9 894.9 L1777.0 912.0 L1777.4 919.2 L1777.8 885.1 L1778.0 915.4 L1778.1 887.1 L1778.2 917.2 L1779.0 911.5 L1779.1 898.0 L1779.3 918.6 L1779.9 899.3 L1780.0 895.3 L1780.4 971.4 L1780.5 879.1 L1780.9 905.1 L1781.0 906.6 L1781.6 878.3 L1781.7 947.0 L1782.0 911.3 L1782.1 939.4 L1782.4 884.2 L1782.8 945.3 L1782.9 887.5 L1783.0 915.0 L1783.7 874.1 L1783.8 920.9 L1784.0 885.5 L1784.1 912.3 L1784.3 938.8 L1784.7 893.0 L1784.9 897.3 L1785.0 879.6 L1785.1 871.7 L1785.6 912.0 L1785.9 882.3 L1786.1 884.0 L1786.4 927.5 L1786.8 868.7 L1787.0 893.1 L1787.1 889.7 L1787.7 926.2 L1787.8 868.8 L1787.9 924.3 L1788.0 879.4 L1788.3 920.5 L1788.6 856.4 L1789.0 911.7 L1789.1 866.5 L1789.3 939.8 L1790.0 888.3 L1790.1 907.8 L1790.2 884.7 L1790.4 916.2 L1790.9 899.7 L1791.0 874.6 L1791.5 911.0 L1791.9 885.8 L1792.0 922.5 L1792.1 863.1 L1792.5 923.8 L1792.9 878.4 L1793.0 881.1 L1793.5 932.8 L1793.6 859.5 L1793.9 885.3 L1794.0 875.3 L1794.3 858.9 L1794.4 909.0 L1794.9 877.6 L1795.0 860.8 L1795.4 881.5 L1795.7 858.2 L1795.9 869.0 L1796.0 873.5 L1796.4 860.1 L1796.5 907.8 L1796.9 866.6 L1797.0 896.5 L1797.3 897.4 L1797.9 843.2 L1798.0 857.0 L1798.2 885.3 L1798.7 837.5 L1798.9 862.5 L1799.0 852.4 L1799.5 917.0 L1799.7 838.8 L1800.0 888.8 L1800.1 854.6 L1800.6 886.0 L1801.0 875.6 L1801.1 833.3 L1801.7 874.4 L1801.9 866.9 L1802.0 846.1 L1802.4 841.7 L1803.0 881.7 L1803.1 845.1 L1803.6 911.7 L1804.0 872.4 L1804.1 882.7 L1804.7 907.7 L1804.8 859.9 L1804.9 863.3 L1805.0 905.3 L1805.3 843.0 L1805.4 936.2 L1806.0 866.0 L1806.1 854.8 L1806.9 907.1 L1807.0 903.7 L1807.4 921.5 L1807.6 860.0 L1807.9 867.1 L1808.0 868.2 L1808.5 942.0 L1808.9 858.2 L1809.0 907.5 L1809.1 870.9 L1809.7 923.9 L1809.9 923.5 L1810.0 873.0 L1810.5 923.1 L1810.7 854.5 L1810.9 881.1 L1811.0 878.3 L1811.2 868.4 L1811.5 926.4 L1812.0 921.3 L1812.1 866.6 L1812.4 939.6 L1813.0 889.8 L1813.1 889.4 L1813.2 913.8 L1813.8 867.7 L1814.0 900.9 L1814.1 887.2 L1814.4 936.7 L1814.6 879.4 L1814.9 921.8 L1815.0 897.7 L1815.7 907.3 L1815.9 869.6 L1816.0 881.6 L1816.2 877.0 L1816.4 912.3 L1817.0 887.3 L1817.1 904.8 L1817.4 936.1 L1817.8 885.8 L1818.0 907.5 L1818.1 893.1 L1818.2 881.8 L1818.5 951.3 L1819.0 892.6 L1819.1 901.5 L1819.3 873.5 L1820.0 951.3 L1820.1 909.2 L1820.5 889.9 L1820.9 925.3 L1821.0 903.0 L1821.5 883.4 L1821.6 938.0 L1821.9 888.8 L1822.0 880.2 L1822.9 935.3 L1823.0 919.2 L1823.1 899.2 L1823.2 928.2 L1823.6 884.1 L1823.9 927.2 L1824.0 911.4 L1824.3 974.8 L1824.9 885.2 L1825.0 905.9 L1825.1 915.5 L1825.8 939.2 L1825.9 897.8 L1826.0 919.6 L1826.4 895.5 L1827.0 932.9 L1827.1 911.6 L1827.3 944.5 L1827.8 903.3 L1827.9 904.9 L1828.0 884.7 L1828.8 976.9 L1829.0 899.5 L1829.1 897.7 L1829.5 892.8 L1829.9 952.1 L1830.0 907.7 L1830.1 923.2 L1830.3 943.2 L1830.8 891.4 L1830.9 920.8 L1831.0 933.3 L1831.7 919.1 L1831.7 954.8 L1831.9 924.7 L1832.0 941.6 L1832.5 945.4 L1832.7 901.8 L1832.9 943.5 L1833.0 902.7 L1833.7 962.7 L1834.0 955.7 L1834.0 912.3 L1834.5 967.7 L1834.8 897.8 L1835.0 929.5 L1835.0 941.3 L1835.5 964.6 L1835.8 897.6 L1835.9 950.1 L1836.0 911.0 L1836.5 907.0 L1836.9 972.8 L1836.9 943.9 L1837.0 930.4 L1837.4 894.3 L1837.7 964.6 L1837.9 912.5 L1838.0 946.4 L1838.3 986.7 L1838.4 916.8 L1839.0 950.0 L1839.1 919.5 L1839.4 903.3 L1839.5 969.1 L1840.0 960.3 L1840.1 941.4 L1840.3 917.4 L1840.9 969.4 L1841.0 944.7 L1841.4 903.1 L1841.5 983.4 L1841.9 935.1 L1842.0 939.5 L1842.2 981.9 L1842.7 922.6 L1843.0 959.5 L1843.0 933.4 L1843.1 995.3 L1843.7 921.8 L1843.9 928.2 L1844.0 955.4 L1844.1 926.7 L1845.0 983.4 L1845.0 934.2 L1845.2 929.2 L1845.3 982.6 L1846.0 964.7 L1846.1 947.7 L1846.4 927.8 L1846.9 986.8 L1847.0 952.5 L1847.5 922.6 L1847.9 990.6 L1848.0 932.2 L1848.0 972.2 L1848.6 987.9 L1848.9 923.6 L1849.0 946.2 L1849.1 956.6 L1849.6 1008.6 L1849.7 937.4 L1850.0 954.5 L1850.1 972.0 L1850.5 994.7 L1850.7 938.6 L1851.0 945.7 L1851.1 959.2 L1851.2 1005.9 L1851.2 945.3 L1852.0 962.6 L1852.1 959.1 L1852.3 951.6 L1852.4 985.0 L1853.0 984.9 L1853.1 976.9 L1853.6 1013.2 L1853.8 944.5 L1854.0 979.8 L1854.1 989.6 L1854.2 951.5 L1854.6 1021.6 L1855.0 965.3 L1855.1 999.1 L1855.4 1043.4 L1855.8 954.9 L1856.0 963.8 L1856.0 976.2 L1856.4 949.7 L1856.6 1007.9 L1856.9 997.8 L1857.0 970.6 L1857.3 1036.3 L1857.4 954.1 L1858.0 1004.3 L1858.1 1013.4 L1858.5 955.5 L1858.7 1033.8 L1859.0 989.3 L1859.0 952.0 L1859.4 1009.1 L1860.0 976.8 L1860.1 974.9 L1860.2 960.4 L1860.4 1031.1 L1861.0 1007.8 L1861.0 961.0 L1861.3 1023.8 L1862.0 987.9 L1862.1 996.0 L1862.6 1012.7 L1862.9 961.9 L1863.0 991.5 L1863.2 967.3 L1863.9 1031.2 L1864.0 975.7 L1864.0 1035.1 L1864.7 970.4 L1865.0 992.8 L1865.1 1010.8 L1865.4 1027.7 L1865.7 973.6 L1866.0 995.0 L1866.1 988.3 L1866.5 1049.7 L1866.9 969.2 L1867.0 1007.9 L1867.1 982.0 L1867.1 1000.9 L1867.6 961.4 L1868.0 977.3 L1868.1 986.5 L1868.6 966.5 L1869.0 1012.4 L1869.1 983.5 L1869.5 959.4 L1869.7 1011.1 L1870.0 1006.3 L1870.1 1001.5 L1870.1 972.0 L1870.6 1024.9 L1871.0 986.9 L1871.0 992.0 L1871.3 957.7 L1871.5 1058.6 L1872.0 992.4 L1872.0 980.4 L1872.2 1024.4 L1872.6 963.0 L1872.9 1009.2 L1873.0 1004.4 L1873.3 1042.2 L1873.6 980.4 L1874.0 980.6 L1874.0 1003.5 L1874.6 1016.9 L1874.8 978.4 L1874.9 991.5 L1875.0 1036.3 L1875.5 982.1 L1875.8 1040.5 L1876.0 1007.2 L1876.1 1000.1 L1876.3 962.9 L1876.9 1043.2 L1877.0 989.0 L1877.2 967.8 L1877.5 1038.8 L1878.0 1030.2 L1878.0 999.1 L1878.6 1017.5 L1878.7 963.6 L1879.0 995.2 L1879.1 1000.6 L1879.4 1038.1 L1879.9 985.1 L1880.0 1022.0 L1880.1 995.1 L1880.2 1064.4 L1880.6 983.3 L1880.9 997.6 L1881.0 1046.4 L1881.9 979.9 L1882.0 1025.1 L1882.7 979.8 L1882.9 1052.5 L1882.9 1029.3 L1883.0 1033.4 L1883.1 984.2 L1883.4 1037.4 L1883.9 988.9 L1884.0 979.7 L1884.5 972.1 L1885.0 1082.5 L1885.1 1026.2 L1885.3 1047.2 L1885.7 982.8 L1886.0 998.5 L1886.0 1042.3 L1886.2 982.7 L1887.0 1021.0 L1887.0 968.7 L1887.2 1079.7 L1887.9 1048.9 L1888.0 998.7 L1888.1 1069.5 L1888.1 972.2 L1889.0 984.1 L1889.0 980.9 L1889.5 1059.0 L1889.9 1019.1 L1890.0 1008.2 L1890.4 973.9 L1890.6 1040.1 L1891.0 1018.1 L1891.0 1000.8 L1891.4 980.1 L1891.4 1032.0 L1892.0 993.3 L1892.1 1049.8 L1892.2 1076.4 L1892.9 984.0 L1893.0 992.8 L1893.1 969.4 L1894.0 1052.4 L1894.0 1039.0 L1894.2 1041.7 L1894.6 980.9 L1895.0 992.8 L1895.0 1036.8 L1895.6 980.2 L1895.7 1070.9 L1896.0 1009.6 L1896.0 1032.6 L1896.2 973.3 L1896.8 1042.9 L1897.0 1021.4 L1897.0 1030.2 L1897.5 1067.6 L1897.6 969.6 L1898.0 1019.8 L1898.0 1023.5 L1898.2 1038.7 L1898.4 969.4 L1898.9 1027.1 L1899.0 1025.5 L1899.3 980.3 L1899.7 1050.9 L1900.0 982.3 L1900.1 1047.1 L1900.3 1050.8 L1900.5 967.7 L1901.0 994.1 L1901.0 1020.8 L1901.4 1023.0 L1901.7 971.9 L1901.9 1018.8 L1902.0 1030.1 L1902.6 961.0 L1902.7 1054.5 L1903.0 984.0 L1903.0 986.6 L1903.1 1098.0 L1903.6 959.2 L1903.9 1021.1 L1904.0 1017.4 L1904.2 963.7 L1904.3 1096.8 L1905.0 980.1 L1905.0 990.3 L1905.3 971.7 L1905.9 1033.0 L1906.0 1004.3 L1906.0 977.2 L1906.5 959.7 L1906.6 1022.1 L1907.0 1010.9 L1907.1 950.2 L1907.4 1027.4 L1907.9 960.5 L1908.0 989.4 L1908.3 997.5 L1908.5 952.5 L1908.9 991.9 L1909.0 936.2 L1909.2 1000.8 L1909.8 928.7 L1909.9 945.2 L1910.0 962.9 L1910.3 990.8 L1911.0 915.8 L1911.1 923.2 L1911.7 984.3 L1912.0 940.2 L1912.0 902.9 L1912.3 1022.3 L1913.0 926.4 L1913.0 930.4 L1913.5 889.5 L1913.8 947.5 L1913.9 895.9 L1914.0 929.9 L1914.7 866.9 L1914.9 969.8 L1915.0 898.5 L1915.0 929.8 L1915.9 848.3 L1915.9 868.1 L1916.0 839.4 L1916.1 921.6 L1916.8 792.2 L1917.0 817.4 L1917.0 815.0 L1917.6 908.3 L1918.0 849.4 L1918.0 869.6 L1918.2 844.0 L1919.0 927.0 L1919.1 863.7 L1919.6 948.5 L1920.0 936.3 L1920.1 903.4 L1920.2 994.2 L1920.9 933.6 L1921.0 971.6 L1921.9 1048.2 L1922.0 926.1 L1922.1 953.2 L1922.2 921.8 L1922.9 1015.0 L1923.0 929.8 L1923.0 972.5 L1923.1 1019.4 L1923.9 932.5 L1924.0 972.3 L1924.0 970.5 L1924.5 931.0 L1925.0 998.0 L1925.0 992.1 L1925.1 1002.3 L1925.6 946.5 L1926.0 949.5 L1926.1 940.5 L1926.3 992.3 L1926.9 924.2 L1927.0 970.7 L1927.0 975.4 L1927.1 932.6 L1927.5 1012.3 L1928.0 949.7 L1928.0 998.3 L1928.2 1024.2 L1928.7 957.1 L1929.0 980.9 L1929.0 977.7 L1929.2 1039.8 L1929.6 938.4 L1930.0 958.4 L1930.0 947.4 L1930.2 941.1 L1931.0 1002.8 L1931.0 974.2 L1931.1 988.1 L1931.6 928.2 L1932.0 975.4 L1932.0 973.2 L1932.2 998.1 L1932.8 947.8 L1933.0 955.0 L1933.0 960.4 L1933.2 1008.8 L1933.9 948.1 L1934.0 968.6 L1934.0 946.6 L1934.5 935.8 L1934.6 1008.6 L1935.0 976.4 L1935.0 950.0 L1935.6 1013.5 L1935.9 939.2 L1936.0 955.2 L1936.1 957.2 L1936.1 938.4 L1936.4 993.0 L1937.0 973.2 L1937.0 965.8 L1937.2 942.5 L1937.9 1040.1 L1938.0 1018.9 L1938.6 939.7 L1939.0 955.3 L1939.0 973.0 L1939.5 994.2 L1939.6 940.7 L1940.0 940.9 L1940.0 966.0 L1940.7 927.7 L1940.8 987.2 L1940.9 944.4 L1941.0 970.2 L1941.5 995.0 L1941.6 946.8 L1942.0 953.7 L1942.0 960.8 L1942.1 988.7 L1942.1 933.8 L1943.0 956.7 L1943.0 964.4 L1943.1 935.1 L1943.2 1017.7 L1944.0 947.4 L1944.0 926.1 L1944.3 980.4 L1945.0 962.6 L1945.1 947.8 L1945.2 925.3 L1945.9 1008.6 L1946.0 950.9 L1946.0 955.7 L1946.1 935.4 L1946.5 986.1 L1947.0 961.8 L1947.0 961.2 L1947.3 984.5 L1947.8 935.9 L1948.0 942.6 L1948.0 957.9 L1948.5 916.4 L1949.0 994.0 L1949.0 940.8 L1949.3 914.5 L1949.9 991.4 L1950.0 943.8 L1950.0 959.0 L1950.2 973.2 L1950.6 905.3 L1951.0 935.6 L1951.0 955.1 L1951.2 904.9 L1951.4 968.7 L1952.0 928.5 L1952.0 926.5 L1952.1 968.2 L1952.5 904.1 L1953.0 914.4 L1953.0 958.5 L1953.3 959.6 L1953.8 895.0 L1954.0 907.5 L1954.0 915.4 L1954.2 882.1 L1954.3 956.7 L1955.0 893.3 L1955.0 906.1 L1955.7 954.0 L1955.9 872.6 L1956.0 914.4 L1956.0 903.1 L1956.3 864.0 L1956.9 938.8 L1957.0 891.3 L1957.0 872.6 L1957.1 911.0 L1957.5 859.1 L1958.0 862.5 L1958.0 880.1 L1958.2 911.6 L1958.9 838.1 L1959.0 895.7 L1959.0 870.5 L1959.3 898.3 L1959.7 821.7 L1960.0 839.0 L1960.0 838.2 L1960.7 833.3 L1960.7 892.9 L1961.0 878.9 L1961.0 894.6 L1961.1 852.8 L1961.8 916.2 L1962.0 893.6 L1962.0 872.7 L1962.3 937.2 L1963.0 921.8 L1963.0 903.0 L1963.3 876.7 L1963.4 974.5 L1964.0 884.9 L1964.0 909.8 L1964.9 950.0 L1964.9 906.8 L1965.0 913.6 L1965.0 915.8 L1965.3 981.1 L1966.0 922.3 L1966.0 969.8 L1966.1 986.7 L1966.1 920.2 L1967.0 967.1 L1967.0 941.5 L1967.6 932.6 L1967.9 979.8 L1968.0 945.2 L1968.0 932.0 L1968.1 925.5 L1968.2 1030.9 L1969.0 962.9 L1969.0 984.8 L1969.1 925.2 L1969.7 988.2 L1970.0 949.2 L1970.0 960.8 L1970.5 943.8 L1970.8 1023.7 L1971.0 976.3 L1971.0 981.9 L1971.6 943.7 L1971.7 1017.4 L1972.0 965.9 L1972.0 987.1 L1972.7 959.4 L1972.8 1017.3 L1973.0 961.0 L1973.0 957.4 L1973.9 1033.6 L1974.0 997.9 L1974.0 1007.5 L1974.2 1058.8 L1974.8 980.4 L1975.0 1008.4 L1975.0 981.8 L1975.1 970.7 L1975.6 1029.4 L1976.0 996.6 L1976.0 1003.3 L1976.6 980.5 L1976.8 1055.8 L1977.0 1049.1 L1977.0 977.9 L1977.9 1063.9 L1978.0 1009.3 L1978.0 1049.6 L1978.3 995.6 L1978.7 1067.5 L1979.0 1014.6 L1979.0 1030.5 L1979.4 993.3 L1979.9 1074.7 L1980.0 1045.0 L1980.0 991.7 L1980.5 1071.4 L1981.0 1022.6 L1981.0 1030.3 L1981.1 1001.7 L1981.3 1064.1 L1982.0 1028.0 L1982.0 1034.0 L1982.7 1011.1 L1982.8 1097.2 L1983.0 1021.2 L1983.0 1025.3 L1983.4 1006.9 L1983.4 1074.2 L1984.0 1035.8 L1984.0 1036.9 L1984.2 1067.9 L1984.7 1017.5 L1985.0 1051.0 L1985.0 1100.1 L1985.2 1010.1 L1986.0 1017.9 L1986.0 1075.9 L1986.2 1021.9 L1986.8 1106.5 L1987.0 1080.1 L1987.0 1092.8 L1987.2 1025.8 L1987.3 1097.0 L1988.0 1043.3 L1988.0 1063.7 L1988.1 1037.8 L1988.9 1085.2 L1989.0 1039.5 L1989.0 1058.0 L1989.6 1111.2 L1989.9 1036.2 L1990.0 1068.5 L1990.0 1089.0 L1990.1 1033.5 L1990.6 1097.8 L1991.0 1064.4 L1991.0 1099.8 L1991.3 1033.8 L1992.0 1062.1 L1992.0 1094.2 L1992.4 1046.5 L1992.9 1113.2 L1993.0 1082.3 L1993.0 1100.5 L1993.3 1049.7 L1994.0 1089.4 L1994.0 1123.2 L1994.3 1065.9 L1995.0 1072.6 L1995.0 1069.3 L1995.7 1058.9 L1995.9 1147.5 L1996.0 1085.8 L1996.0 1089.2 L1996.3 1141.0 L1996.3 1071.0 L1997.0 1116.5 L1997.0 1091.2 L1997.4 1139.0 L1997.7 1068.1 L1998.0 1081.7 L1998.0 1113.5 L1998.1 1075.0 L1998.5 1145.5 L1999.0 1121.4 L1999.0 1099.5 L1999.1 1126.3 L1999.9 1080.6 L2000.0 1108.4 L2000.0 1099.7 L2000.2 1075.1 L2000.3 1148.0 L2001.0 1111.6 L2001.0 1113.3 L2001.3 1141.9 L2001.6 1088.6 L2002.0 1132.9 L2002.0 1128.1 L2002.1 1086.1 L2002.9 1153.0 L2003.0 1122.8 L2003.0 1121.4 L2003.2 1089.3 L2003.5 1149.3 L2004.0 1109.0 L2004.0 1123.8 L2004.1 1172.5 L2004.7 1107.2 L2005.0 1109.1 L2005.0 1121.0 L2005.2 1210.9 L2005.8 1104.2 L2006.0 1155.5 L2006.0 1105.8 L2006.6 1166.7 L2007.0 1150.1 L2007.0 1171.8 L2007.1 1107.4 L2007.9 1175.9 L2008.0 1111.3 L2008.0 1144.2 L2008.1 1179.3 L2008.3 1097.2 L2009.0 1121.3 L2009.0 1186.9 L2009.2 1119.0 L2009.6 1188.2 L2010.0 1158.2 L2010.0 1140.4 L2010.2 1174.9 L2010.2 1112.0 L2011.0 1130.4 L2011.0 1137.0 L2011.4 1122.6 L2011.5 1181.8 L2012.0 1163.5 L2012.0 1133.7 L2012.1 1177.1 L2012.5 1111.2 L2013.0 1136.9 L2013.0 1118.5 L2013.4 1110.5 L2013.9 1175.3 L2014.0 1139.0 L2014.0 1149.6 L2014.1 1180.3 L2014.9 1116.0 L2015.0 1158.4 L2015.0 1167.6 L2015.6 1108.5 L2016.0 1127.8 L2016.0 1143.6 L2016.1 1111.3 L2016.8 1190.8 L2017.0 1144.0 L2017.0 1146.8 L2017.4 1119.4 L2017.7 1203.6 L2018.0 1139.1 L2018.0 1150.6 L2018.4 1178.9 L2018.7 1110.4 L2019.0 1139.5 L2019.0 1150.1 L2019.3 1200.3 L2019.8 1119.4 L2020.0 1127.8 L2020.0 1182.5 L2020.3 1192.2 L2020.5 1118.9 L2021.0 1156.2 L2021.0 1132.6 L2021.5 1188.3 L2022.0 1116.4 L2022.0 1119.7 L2022.9 1201.7 L2023.0 1150.8 L2023.0 1135.4 L2023.2 1127.5 L2023.8 1194.5 L2024.0 1140.4 L2024.0 1163.7 L2024.0 1188.9 L2024.5 1129.1 L2025.0 1143.6 L2025.0 1195.4 L2025.6 1203.7 L2025.9 1132.7 L2026.0 1159.1 L2026.0 1171.7 L2026.5 1220.6 L2026.5 1124.8 L2027.0 1157.7 L2027.0 1164.6 L2027.5 1199.3 L2027.9 1135.4 L2028.0 1157.7 L2028.0 1185.9 L2028.6 1133.1 L2028.9 1206.3 L2029.0 1156.8 L2029.0 1163.1 L2029.5 1121.6 L2029.8 1210.3 L2030.0 1186.0 L2030.0 1164.9 L2030.5 1196.6 L2030.8 1148.4 L2031.0 1159.1 L2031.0 1158.1 L2031.4 1205.9 L2031.9 1146.6 L2032.0 1154.8 L2032.0 1158.3 L2032.2 1196.0 L2032.2 1136.3 L2033.0 1151.4 L2033.0 1147.8 L2033.2 1138.6 L2033.3 1208.8 L2034.0 1149.7 L2034.0 1147.3 L2034.4 1135.7 L2034.7 1193.1 L2035.0 1161.6 L2035.0 1151.3 L2035.9 1201.8 L2036.0 1135.5 L2036.0 1164.7 L2036.0 1206.0 L2036.4 1139.6 L2037.0 1155.2 L2037.0 1155.2 L2037.2 1188.8 L2037.6 1139.6 L2038.0 1140.3 L2038.0 1178.9 L2038.5 1133.2 L2039.0 1199.5 L2039.0 1186.7 L2039.3 1197.5 L2039.5 1137.0 L2040.0 1144.5 L2040.0 1149.6 L2040.3 1126.7 L2040.7 1203.0 L2041.0 1173.4 L2041.0 1176.3 L2041.5 1124.9 L2041.8 1215.0 L2042.0 1155.5 L2042.0 1150.6 L2042.8 1200.5 L2043.0 1130.5 L2043.0 1153.3 L2043.0 1178.0 L2043.2 1134.1 L2043.8 1229.9 L2044.0 1184.5 L2044.0 1163.4 L2044.1 1188.5 L2044.7 1116.4 L2045.0 1186.0 L2045.0 1145.5 L2045.2 1210.1 L2045.4 1132.2 L2046.0 1194.6 L2046.0 1160.5 L2046.7 1118.6 L2046.9 1208.7 L2047.0 1136.3 L2047.0 1168.2 L2047.3 1185.3 L2047.9 1127.1 L2048.0 1146.5 L2048.0 1149.9 L2048.1 1121.6 L2048.2 1202.3 L2049.0 1189.3 L2049.0 1135.9 L2049.9 1133.1 L2050.0 1195.5 L2050.0 1146.2 L2050.2 1130.0 L2050.5 1179.0 L2051.0 1142.1 L2051.0 1195.1 L2051.7 1127.8 L2052.0 1169.1 L2052.0 1161.8 L2052.7 1180.3 L2052.9 1135.4 L2053.0 1156.3 L2053.0 1145.4 L2053.1 1135.5 L2053.1 1193.1 L2054.0 1154.0 L2054.0 1134.0 L2054.1 1128.0 L2054.7 1193.0 L2055.0 1155.8 L2055.0 1167.1 L2055.5 1193.1 L2055.9 1128.4 L2056.0 1160.4 L2056.0 1152.2 L2056.3 1127.1 L2056.4 1216.4 L2057.0 1155.1 L2057.0 1187.2 L2057.1 1194.0 L2057.7 1128.9 L2058.0 1164.7 L2058.0 1136.1 L2058.1 1131.8 L2058.9 1201.3 L2059.0 1133.4 L2059.0 1150.2 L2059.1 1210.0 L2059.7 1123.9 L2060.0 1158.6 L2060.0 1151.6 L2060.5 1196.9 L2060.7 1127.8 L2061.0 1149.2 L2061.0 1129.0 L2061.4 1186.3 L2061.5 1116.6 L2062.0 1169.3 L2062.0 1148.4 L2062.3 1118.5 L2062.4 1192.1 L2063.0 1150.4 L2063.0 1143.0 L2063.1 1215.6 L2063.7 1130.7 L2064.0 1132.3 L2064.0 1152.5 L2064.5 1194.1 L2064.9 1120.9 L2065.0 1149.7 L2065.0 1134.9 L2065.2 1187.7 L2065.8 1128.5 L2066.0 1168.4 L2066.0 1158.7 L2066.3 1193.0 L2066.7 1123.2 L2067.0 1133.0 L2067.0 1159.2 L2067.8 1219.5 L2067.9 1124.8 L2068.0 1141.8 L2068.0 1128.7 L2068.9 1184.2 L2069.0 1163.5 L2069.0 1141.2 L2069.7 1197.8 L2069.8 1113.1 L2070.0 1134.4 L2070.0 1166.3 L2070.4 1208.1 L2070.7 1131.8 L2071.0 1170.1 L2071.0 1160.3 L2071.3 1121.3 L2071.6 1210.0 L2072.0 1145.3 L2072.0 1137.8 L2072.1 1118.0 L2073.0 1180.2 L2073.0 1135.4 L2073.0 1194.0 L2073.8 1128.2 L2074.0 1140.1 L2074.0 1154.4 L2074.2 1202.0 L2074.6 1120.0 L2075.0 1151.4 L2075.0 1152.7 L2075.8 1192.2 L2076.0 1123.2 L2076.0 1134.7 L2076.0 1157.9 L2076.6 1119.9 L2076.7 1194.3 L2077.0 1137.4 L2077.0 1137.2 L2077.3 1221.7 L2077.8 1117.4 L2078.0 1146.1 L2078.0 1179.1 L2078.4 1124.9 L2078.8 1227.5 L2079.0 1132.9 L2079.0 1166.9 L2079.6 1186.6 L2079.9 1114.8 L2080.0 1181.3 L2080.0 1151.1 L2080.2 1197.8 L2080.9 1124.5 L2081.0 1180.9 L2081.0 1204.5 L2081.5 1132.0 L2082.0 1134.7 L2082.0 1129.8 L2082.3 1184.3 L2082.9 1125.9 L2083.0 1161.1 L2083.0 1164.5 L2083.4 1120.6 L2083.6 1190.3 L2084.0 1125.8 L2084.0 1145.9 L2084.2 1129.0 L2084.5 1201.7 L2085.0 1164.3 L2085.0 1148.0 L2085.1 1207.3 L2086.0 1119.2 L2086.0 1126.2 L2086.3 1124.1 L2086.9 1190.8 L2087.0 1149.3 L2087.0 1173.5 L2087.1 1125.3 L2087.5 1193.2 L2088.0 1167.1 L2088.0 1143.0 L2088.3 1203.1 L2088.7 1117.2 L2089.0 1153.5 L2089.0 1147.0 L2089.2 1122.5 L2089.5 1181.0 L2090.0 1144.8 L2090.0 1128.1 L2090.1 1217.2 L2090.5 1127.9 L2091.0 1133.0 L2091.0 1172.4 L2091.3 1132.4 L2091.4 1206.6 L2092.0 1188.0 L2092.0 1187.9 L2092.7 1124.1 L2092.8 1193.5 L2093.0 1155.3 L2093.0 1190.6 L2093.3 1117.0 L2094.0 1152.2 L2094.0 1138.8 L2094.5 1120.8 L2094.6 1183.5 L2095.0 1165.6 L2095.0 1170.9 L2095.1 1129.2 L2095.3 1192.5 L2096.0 1148.9 L2096.0 1150.3 L2096.3 1196.6 L2096.8 1131.4 L2097.0 1134.1 L2097.0 1150.8 L2097.4 1125.5 L2097.8 1191.9 L2098.0 1152.0 L2098.0 1153.8 L2098.0 1200.9 L2098.7 1126.3 L2099.0 1147.7 L2099.0 1143.6 L2099.0 1126.7 L2099.9 1188.5 L2100.0 1144.0 L2100.0 1146.4 L2100.1 1131.1 L2100.5 1185.2 L2101.0 1142.4 L2101.0 1158.2 L2101.1 1200.7 L2101.2 1123.2 L2102.0 1124.7 L2102.0 1157.3 L2102.4 1184.0 L2102.5 1129.3 L2103.0 1166.0 L2103.0 1162.4 L2103.2 1214.8 L2103.9 1128.8 L2104.0 1172.8 L2104.0 1143.5 L2104.4 1128.5 L2105.0 1191.2 L2105.0 1157.3 L2105.0 1133.5 L2105.4 1126.9 L2105.8 1185.0 L2106.0 1161.9 L2106.0 1147.1 L2106.8 1194.2 L2106.8 1131.6 L2107.0 1167.0 L2107.0 1193.6 L2107.6 1127.5 L2107.9 1203.5 L2108.0 1166.3 L2108.0 1159.0 L2108.6 1184.4 L2108.9 1137.4 L2109.0 1158.8 L2109.0 1154.7 L2109.4 1131.6 L2109.8 1211.0 L2110.0 1140.0 L2110.0 1140.9 L2110.2 1132.2 L2110.4 1214.4 L2111.0 1151.5 L2111.0 1136.7 L2111.4 1202.3 L2111.4 1124.4 L2112.0 1161.8 L2112.0 1140.9 L2112.6 1133.9 L2112.7 1205.7 L2113.0 1153.2 L2113.0 1127.8 L2113.0 1127.0 L2113.9 1181.2 L2114.0 1145.4 L2114.0 1141.7 L2114.4 1180.8 L2114.9 1117.2 L2115.0 1146.0 L2115.0 1198.2 L2115.7 1124.0 L2116.0 1136.3 L2116.0 1164.2 L2116.4 1212.9 L2116.9 1121.2 L2117.0 1166.8 L2117.0 1143.9 L2117.1 1122.8 L2117.9 1207.0 L2118.0 1146.6 L2118.0 1143.2 L2118.1 1107.7 L2118.6 1191.3 L2119.0 1158.8 L2119.0 1149.8 L2119.6 1199.2 L2119.9 1130.9 L2120.0 1135.6 L2120.0 1129.0 L2120.2 1118.1 L2120.3 1224.9 L2121.0 1142.9 L2121.0 1155.0 L2121.2 1185.0 L2121.9 1122.1 L2122.0 1166.2 L2122.0 1158.9 L2122.2 1225.7 L2122.8 1108.7 L2123.0 1141.0 L2123.0 1177.8 L2123.3 1127.1 L2123.8 1193.5 L2124.0 1170.3 L2124.0 1143.1 L2124.5 1120.5 L2124.6 1183.2 L2125.0 1160.3 L2125.0 1171.0 L2125.2 1122.6 L2125.2 1211.0 L2126.0 1145.2 L2126.0 1135.3 L2126.1 1191.7 L2126.4 1117.0 L2127.0 1152.0 L2127.0 1157.0 L2127.5 1115.8 L2127.6 1182.6 L2128.0 1140.6 L2128.0 1149.4 L2128.2 1207.6 L2128.3 1124.9 L2129.0 1147.2 L2129.0 1154.1 L2129.0 1118.1 L2129.1 1196.3 L2130.0 1155.4 L2130.0 1136.5 L2130.7 1182.3 L2130.7 1125.1 L2131.0 1138.0 L2131.0 1155.5 L2131.7 1126.7 L2131.9 1192.6 L2132.0 1147.8 L2132.0 1172.4 L2132.1 1123.0 L2132.4 1207.9 L2133.0 1152.3 L2133.0 1154.8 L2133.2 1122.7 L2133.6 1190.7 L2134.0 1140.5 L2134.0 1163.9 L2134.3 1118.8 L2134.6 1223.3 L2135.0 1147.4 L2135.0 1135.4 L2135.1 1122.2 L2136.0 1216.3 L2136.0 1148.6 L2136.0 1136.6 L2136.8 1114.2 L2136.9 1185.0 L2137.0 1147.8 L2137.0 1181.3 L2137.8 1121.4 L2137.9 1201.4 L2138.0 1155.0 L2138.0 1171.6 L2138.5 1116.0 L2138.6 1213.6 L2139.0 1153.4 L2139.0 1165.1 L2139.2 1110.4 L2139.5 1194.8 L2140.0 1136.0 L2140.0 1144.3 L2140.6 1126.5 L2140.7 1176.9 L2141.0 1138.8 L2141.0 1145.7 L2141.5 1118.0 L2141.7 1221.9 L2142.0 1136.5 L2142.0 1136.6 L2142.2 1125.8 L2142.4 1192.3 L2143.0 1140.6 L2143.0 1137.7 L2143.5 1123.8 L2143.8 1213.5 L2144.0 1157.8 L2144.0 1169.8 L2144.4 1197.8 L2144.8 1122.5 L2145.0 1124.4 L2145.0 1130.2 L2145.2 1192.7 L2145.8 1120.6 L2146.0 1150.8 L2146.0 1142.4 L2146.1 1181.2 L2146.5 1119.3 L2147.0 1160.1 L2147.0 1146.8 L2147.3 1189.9 L2147.4 1122.3 L2148.0 1141.6 L2148.0 1157.5 L2148.0 1212.7 L2148.9 1120.8 L2149.0 1157.2 L2149.0 1176.7 L2149.1 1195.3 L2149.1 1118.4 L2150.0 1132.4 L2150.0 1128.4 L2150.7 1104.1 L2151.0 1183.3 L2151.0 1143.2 L2151.7 1115.3 L2151.7 1185.8 L2152.0 1177.4 L2152.0 1144.1 L2152.5 1118.9 L2153.0 1191.3 L2153.0 1136.5 L2153.0 1121.4 L2153.9 1120.7 L2154.0 1192.7 L2154.0 1136.5 L2154.0 1162.7 L2154.2 1121.4 L2154.6 1183.9 L2155.0 1163.6 L2155.0 1135.4 L2155.5 1187.1 L2155.6 1123.4 L2156.0 1153.8 L2156.0 1160.7 L2156.1 1183.6 L2157.0 1121.1 L2157.0 1157.7 L2157.2 1113.5 L2157.3 1200.7 L2158.0 1142.2 L2158.0 1145.6 L2158.4 1198.8 L2158.9 1119.3 L2159.0 1154.0 L2159.0 1158.0 L2159.4 1120.4 L2159.4 1206.7 L2160.0 1132.2 L2160.0 1175.3 L2160.2 1197.9 L2160.9 1114.2 L2161.0 1136.0 L2161.0 1188.3 L2161.0 1118.7 L2161.8 1224.0 L2162.0 1143.5 L2162.0 1160.3 L2162.4 1188.3 L2162.9 1117.5 L2163.0 1146.5 L2163.0 1153.3 L2163.1 1117.5 L2163.1 1197.3 L2164.0 1154.6 L2164.0 1195.2 L2164.3 1119.9 L2164.4 1202.0 L2165.0 1151.9 L2165.0 1157.8 L2165.1 1203.1 L2165.7 1119.9 L2166.0 1127.7 L2166.0 1144.4 L2166.7 1192.6 L2167.0 1121.4 L2167.0 1130.3 L2167.0 1152.5 L2167.7 1194.8 L2167.9 1122.9 L2168.0 1153.5 L2168.0 1160.6 L2168.6 1193.5 L2168.9 1127.0 L2169.0 1147.7 L2169.0 1150.4 L2169.3 1125.8 L2169.6 1197.3 L2170.0 1146.7 L2170.0 1159.5 L2170.4 1183.1 L2170.4 1121.0 L2171.0 1159.4 L2171.0 1133.1 L2171.2 1199.6 L2171.9 1128.0 L2172.0 1163.2 L2172.0 1142.5 L2172.3 1123.8 L2172.5 1185.9 L2173.0 1159.6 L2173.0 1145.8 L2173.5 1196.9 L2173.7 1127.2 L2174.0 1164.6 L2174.0 1164.8 L2174.1 1128.9 L2174.5 1214.1 L2175.0 1150.8 L2175.0 1161.1 L2175.2 1216.8 L2176.0 1127.8 L2176.0 1140.1 L2176.4 1121.3 L2176.9 1192.9 L2177.0 1149.6 L2177.0 1127.3 L2177.5 1213.7 L2178.0 1138.1 L2178.0 1138.6 L2178.0 1194.8 L2178.4 1127.7 L2179.0 1174.7 L2179.0 1171.1 L2179.3 1125.2 L2179.4 1202.4 L2180.0 1151.9 L2180.0 1161.4 L2180.1 1128.8 L2180.7 1202.6 L2181.0 1133.3 L2181.0 1155.9 L2181.2 1194.7 L2181.6 1123.6 L2182.0 1145.7 L2182.0 1154.0 L2182.6 1126.7 L2182.8 1209.2 L2183.0 1165.5 L2183.0 1134.3 L2183.3 1129.1 L2183.3 1214.1 L2184.0 1140.7 L2184.0 1172.9 L2184.2 1124.4 L2184.6 1196.9 L2185.0 1174.1 L2185.0 1166.8 L2185.2 1188.2 L2185.8 1118.5 L2186.0 1173.6 L2186.0 1142.8 L2186.4 1198.7 L2186.7 1130.1 L2187.0 1160.7 L2187.0 1157.6 L2187.7 1189.2 L2187.8 1130.1 L2188.0 1148.1 L2188.0 1165.1 L2188.4 1188.4 L2188.9 1128.8 L2189.0 1156.6 L2189.0 1181.5 L2189.4 1128.6 L2189.5 1211.0 L2190.0 1146.2 L2190.0 1170.4 L2190.4 1127.2 L2190.4 1213.0 L2191.0 1159.5 L2191.0 1162.2 L2191.1 1199.6 L2191.3 1128.9 L2192.0 1148.6 L2192.0 1140.0 L2192.7 1127.2 L2192.9 1211.1 L2193.0 1147.2 L2193.0 1162.0 L2193.4 1201.9 L2193.5 1131.7 L2194.0 1176.4 L2194.0 1161.5 L2194.2 1201.4 L2195.0 1128.9 L2195.0 1180.4 L2195.1 1209.3 L2195.4 1133.1 L2195.8 1143.3" stroke="#B35015"/>
</g>
<g shape-rendering="crispEdges" fill="#262626">
<rect x="821" y="61.0" width="3" height="921.0"/>
<rect x="1195" y="61.0" width="4" height="921.0"/>
<rect x="1733" y="61.0" width="3" height="921.0"/>
<rect x="821" y="982" width="4" height="515.0"/>
<rect x="1195" y="982" width="4" height="515.0"/>
<rect x="1733" y="982" width="3" height="515.0"/>
</g>
<g shape-rendering="crispEdges" stroke="#fff" stroke-width="1" fill="none">
<path d="M822.5 986V1497.0" stroke-dasharray="1 3"/>
<path d="M1196.5 982V1497.0" stroke-dasharray="1 3"/>
<path d="M1198.5 982V1497.0" stroke-dasharray="1 1"/>
<path d="M1734.5 982V1497.0" stroke-dasharray="1 3"/>
</g>
<g fill="#262626" style="font-kerning:none">
<text transform="translate(290.27 1609.20) scale(1 1.035)" font-size="69.0">10</text><text transform="translate(367.00 1578.20) scale(1 1.035)" font-size="55.2">−</text><text transform="translate(413.04 1578.20) scale(1 1.035)" font-size="55.2">3</text>
<text transform="translate(745.90 1609.20) scale(1 1.035)" font-size="69.0">10</text><text transform="translate(822.62 1578.20) scale(1 1.035)" font-size="55.2">−</text><text transform="translate(868.66 1578.20) scale(1 1.035)" font-size="55.2">2</text>
<text transform="translate(1201.52 1609.20) scale(1 1.035)" font-size="69.0">10</text><text transform="translate(1278.25 1578.20) scale(1 1.035)" font-size="55.2">−</text><text transform="translate(1324.29 1578.20) scale(1 1.035)" font-size="55.2">1</text>
<text transform="translate(1680.17 1609.20) scale(1 1.035)" font-size="69.0">10</text><text transform="translate(1756.89 1578.20) scale(1 1.035)" font-size="55.2">0</text>
<text transform="translate(2135.79 1609.20) scale(1 1.035)" font-size="69.0">10</text><text transform="translate(2212.52 1578.20) scale(1 1.035)" font-size="55.2">1</text>
<text transform="translate(158.25 1534.90) scale(1 1.035)" font-size="69.0">10</text><text transform="translate(234.98 1503.90) scale(1 1.035)" font-size="55.2">−</text><text transform="translate(281.02 1503.90) scale(1 1.035)" font-size="55.2">10</text>
<text transform="translate(188.94 1175.90) scale(1 1.035)" font-size="69.0">10</text><text transform="translate(265.67 1144.90) scale(1 1.035)" font-size="55.2">−</text><text transform="translate(311.71 1144.90) scale(1 1.035)" font-size="55.2">5</text>
<text transform="translate(234.98 816.90) scale(1 1.035)" font-size="69.0">10</text><text transform="translate(311.71 785.90) scale(1 1.035)" font-size="55.2">0</text>
<text transform="translate(234.98 457.90) scale(1 1.035)" font-size="69.0">10</text><text transform="translate(311.71 426.90) scale(1 1.035)" font-size="55.2">5</text>
<text transform="translate(204.29 98.90) scale(1 1.035)" font-size="69.0">10</text><text transform="translate(281.02 67.90) scale(1 1.035)" font-size="55.2">10</text>
<text transform="translate(1276.90 1712.80) scale(1 1.035)" font-size="75.4" text-anchor="middle">log scale frequency (Hz)</text>
<text transform="translate(93 779) rotate(-90) scale(1 1.035)" font-size="75.4"><tspan x="-161.5" y="0">F</tspan><tspan font-size="60.3" dx="1" dy="33">y</tspan><tspan dx="3" dy="-33"> (N/Hz)</tspan></text>
<text transform="translate(891.6 1475.2) rotate(-90) scale(1 1.035)" font-size="57.3">100 s</text>
<text transform="translate(1264.7 1475.2) rotate(-90) scale(1 1.035)" font-size="57.3">Tp = 15.1 s</text>
<text transform="translate(1802.8 1474.2) rotate(-90) scale(1 1.035)" font-size="57.3">1 s</text>
</g>
<rect x="1607.5" y="106.1" width="537.6" height="177.45" fill="#fff" stroke="#262626" stroke-width="4"/>
<path d="M1623 153.6H1796" stroke="#00A6A6" stroke-width="3.8"/>
<path d="M1623 236H1796" stroke="#B35015" stroke-width="3.8"/>
<g fill="#000" style="font-kerning:none"><text transform="translate(1807.50 178.90) scale(1 1.035)" font-size="61" textLength="306.2">OpenFAST</text><text transform="translate(1808.00 261.20) scale(1 1.035)" font-size="61" textLength="309">FAST.Farm</text></g>
</svg>
</body></html>
